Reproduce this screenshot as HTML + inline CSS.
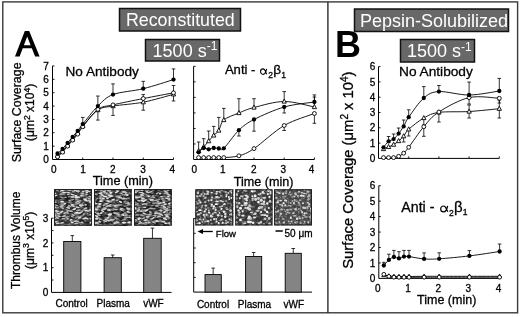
<!DOCTYPE html><html><head><meta charset="utf-8"><style>html,body{margin:0;padding:0;background:#fff;}svg{display:block;filter:grayscale(1);}text{font-family:"Liberation Sans", sans-serif;stroke:#000;stroke-width:0.3px;} text[fill="#fff"]{stroke:none;}</style></head><body>
<svg width="520" height="317" viewBox="0 0 520 317">
<defs>
<filter id="nA1" x="0" y="0" width="100%" height="100%" color-interpolation-filters="sRGB"><feTurbulence type="fractalNoise" baseFrequency="0.2 0.5" numOctaves="2" seed="3"/><feColorMatrix type="matrix" values="1 0 0 0 0  1 0 0 0 0  1 0 0 0 0  0 0 0 0 1"/><feComponentTransfer><feFuncR type="table" tableValues="0.08 0.08 0.09 0.12 0.17 0.26 0.4 0.55 0.65 0.7 0.75"/><feFuncG type="table" tableValues="0.08 0.08 0.09 0.12 0.17 0.26 0.4 0.55 0.65 0.7 0.75"/><feFuncB type="table" tableValues="0.08 0.08 0.09 0.12 0.17 0.26 0.4 0.55 0.65 0.7 0.75"/></feComponentTransfer></filter>
<filter id="nA2" x="0" y="0" width="100%" height="100%" color-interpolation-filters="sRGB"><feTurbulence type="fractalNoise" baseFrequency="0.25 0.45" numOctaves="2" seed="5"/><feColorMatrix type="matrix" values="1 0 0 0 0  1 0 0 0 0  1 0 0 0 0  0 0 0 0 1"/><feComponentTransfer><feFuncR type="table" tableValues="0.08 0.08 0.09 0.12 0.17 0.26 0.4 0.55 0.65 0.7 0.75"/><feFuncG type="table" tableValues="0.08 0.08 0.09 0.12 0.17 0.26 0.4 0.55 0.65 0.7 0.75"/><feFuncB type="table" tableValues="0.08 0.08 0.09 0.12 0.17 0.26 0.4 0.55 0.65 0.7 0.75"/></feComponentTransfer></filter>
<filter id="nA3" x="0" y="0" width="100%" height="100%" color-interpolation-filters="sRGB"><feTurbulence type="fractalNoise" baseFrequency="0.22 0.48" numOctaves="2" seed="8"/><feColorMatrix type="matrix" values="1 0 0 0 0  1 0 0 0 0  1 0 0 0 0  0 0 0 0 1"/><feComponentTransfer><feFuncR type="table" tableValues="0.08 0.08 0.09 0.12 0.17 0.26 0.4 0.55 0.65 0.7 0.75"/><feFuncG type="table" tableValues="0.08 0.08 0.09 0.12 0.17 0.26 0.4 0.55 0.65 0.7 0.75"/><feFuncB type="table" tableValues="0.08 0.08 0.09 0.12 0.17 0.26 0.4 0.55 0.65 0.7 0.75"/></feComponentTransfer></filter>
<filter id="nB1" x="0" y="0" width="100%" height="100%" color-interpolation-filters="sRGB"><feTurbulence type="fractalNoise" baseFrequency="0.4" numOctaves="2" seed="11"/><feColorMatrix type="matrix" values="1 0 0 0 0  1 0 0 0 0  1 0 0 0 0  0 0 0 0 1"/><feComponentTransfer><feFuncR type="table" tableValues="0.14 0.14 0.15 0.16 0.19 0.26 0.5 0.82 0.95 1 1"/><feFuncG type="table" tableValues="0.14 0.14 0.15 0.16 0.19 0.26 0.5 0.82 0.95 1 1"/><feFuncB type="table" tableValues="0.14 0.14 0.15 0.16 0.19 0.26 0.5 0.82 0.95 1 1"/></feComponentTransfer></filter>
<filter id="nB2" x="0" y="0" width="100%" height="100%" color-interpolation-filters="sRGB"><feTurbulence type="fractalNoise" baseFrequency="0.33" numOctaves="2" seed="13"/><feColorMatrix type="matrix" values="1 0 0 0 0  1 0 0 0 0  1 0 0 0 0  0 0 0 0 1"/><feComponentTransfer><feFuncR type="table" tableValues="0.14 0.14 0.15 0.16 0.19 0.26 0.5 0.82 0.95 1 1"/><feFuncG type="table" tableValues="0.14 0.14 0.15 0.16 0.19 0.26 0.5 0.82 0.95 1 1"/><feFuncB type="table" tableValues="0.14 0.14 0.15 0.16 0.19 0.26 0.5 0.82 0.95 1 1"/></feComponentTransfer></filter>
<filter id="nB3" x="0" y="0" width="100%" height="100%" color-interpolation-filters="sRGB"><feTurbulence type="fractalNoise" baseFrequency="0.5" numOctaves="2" seed="17"/><feColorMatrix type="matrix" values="1 0 0 0 0  1 0 0 0 0  1 0 0 0 0  0 0 0 0 1"/><feComponentTransfer><feFuncR type="table" tableValues="0.14 0.14 0.15 0.17 0.22 0.32 0.55 0.8 0.92 1 1"/><feFuncG type="table" tableValues="0.14 0.14 0.15 0.17 0.22 0.32 0.55 0.8 0.92 1 1"/><feFuncB type="table" tableValues="0.14 0.14 0.15 0.17 0.22 0.32 0.55 0.8 0.92 1 1"/></feComponentTransfer></filter>
</defs>
<rect x="2.8" y="1.9" width="514.8" height="310.9" fill="none" stroke="#3a3a3a" stroke-width="1.4"/>
<path d="M327.9,1.9 V313" stroke="#2a2a2a" stroke-width="1.4"/>
<rect x="119.50" y="8.50" width="121.00" height="22.50" fill="#686868" stroke="#111" stroke-width="1.5"/>
<text x="126.00" y="26.20" font-size="17.8" text-anchor="start" font-weight="normal" fill="#fff" >Reconstituted</text>
<rect x="145.50" y="39.50" width="74.00" height="21.50" fill="#686868" stroke="#111" stroke-width="1.5"/>
<text x="152.60" y="56.50" font-size="18" fill="#fff">1500 s<tspan font-size="12" dy="-6.5">-1</tspan></text>
<rect x="354.50" y="9.00" width="154.00" height="22.50" fill="#686868" stroke="#111" stroke-width="1.5"/>
<text x="360.00" y="26.50" font-size="18" text-anchor="start" font-weight="normal" fill="#fff" >Pepsin-Solubilized</text>
<rect x="400.50" y="39.50" width="74.00" height="22.50" fill="#686868" stroke="#111" stroke-width="1.5"/>
<text x="407.00" y="57.00" font-size="18" fill="#fff">1500 s<tspan font-size="12" dy="-6.5">-1</tspan></text>
<path fill-rule="evenodd" fill="#000" d="M24.8,30.9 L29.2,30.9 L39.6,56.5 L35.1,56.5 L31.85,48.3 L22.75,48.3 L19.6,56.5 L15,56.5 Z M27.2,36.4 L30.6,45.2 L23.9,45.2 Z"/>
<text x="335.00" y="57.00" font-size="36" text-anchor="start" font-weight="bold" fill="#000" style="stroke:none">B</text>
<path d="M52.50,65.98 V159.50 H173.50" fill="none" stroke="#000" stroke-width="1.00"/>
<path d="M82.75,159.50 v-2.00" stroke="#000" stroke-width="0.9"/>
<path d="M113.00,159.50 v-2.00" stroke="#000" stroke-width="0.9"/>
<path d="M143.25,159.50 v-2.00" stroke="#000" stroke-width="0.9"/>
<path d="M173.50,159.50 v-2.00" stroke="#000" stroke-width="0.9"/>
<path d="M52.50,146.14 h2.00" stroke="#000" stroke-width="0.9"/>
<path d="M52.50,132.78 h2.00" stroke="#000" stroke-width="0.9"/>
<path d="M52.50,119.42 h2.00" stroke="#000" stroke-width="0.9"/>
<path d="M52.50,106.06 h2.00" stroke="#000" stroke-width="0.9"/>
<path d="M52.50,92.70 h2.00" stroke="#000" stroke-width="0.9"/>
<path d="M52.50,79.34 h2.00" stroke="#000" stroke-width="0.9"/>
<path d="M52.50,65.98 h2.00" stroke="#000" stroke-width="0.9"/>
<text x="48.80" y="163.10" font-size="10" text-anchor="end" font-weight="normal" fill="#000" >0</text>
<text x="48.80" y="149.74" font-size="10" text-anchor="end" font-weight="normal" fill="#000" >1</text>
<text x="48.80" y="136.38" font-size="10" text-anchor="end" font-weight="normal" fill="#000" >2</text>
<text x="48.80" y="123.02" font-size="10" text-anchor="end" font-weight="normal" fill="#000" >3</text>
<text x="48.80" y="109.66" font-size="10" text-anchor="end" font-weight="normal" fill="#000" >4</text>
<text x="48.80" y="96.30" font-size="10" text-anchor="end" font-weight="normal" fill="#000" >5</text>
<text x="48.80" y="82.94" font-size="10" text-anchor="end" font-weight="normal" fill="#000" >6</text>
<text x="48.80" y="69.58" font-size="10" text-anchor="end" font-weight="normal" fill="#000" >7</text>
<text x="53.80" y="172.80" font-size="10" text-anchor="middle" font-weight="normal" fill="#000" >0</text>
<text x="83.00" y="172.80" font-size="10" text-anchor="middle" font-weight="normal" fill="#000" >1</text>
<text x="112.90" y="172.80" font-size="10" text-anchor="middle" font-weight="normal" fill="#000" >2</text>
<text x="143.10" y="172.80" font-size="10" text-anchor="middle" font-weight="normal" fill="#000" >3</text>
<text x="172.20" y="172.80" font-size="10" text-anchor="middle" font-weight="normal" fill="#000" >4</text>
<text x="122.80" y="185.20" font-size="12.7" text-anchor="middle" font-weight="normal" fill="#000" >Time (min)</text>
<text x="65.50" y="75.50" font-size="13.6" text-anchor="start" font-weight="normal" fill="#000" >No Antibody</text>
<path d="M82.75,124.10 V117.42 M80.95,117.42 H84.55" stroke="#000" stroke-width="0.80" fill="none"/>
<path d="M97.88,106.06 V96.04 M96.08,96.04 H99.67" stroke="#000" stroke-width="0.80" fill="none"/>
<path d="M113.00,94.57 V83.88 M111.20,83.88 H114.80" stroke="#000" stroke-width="0.80" fill="none"/>
<path d="M143.25,88.69 V81.34 M141.45,81.34 H145.05" stroke="#000" stroke-width="0.80" fill="none"/>
<path d="M173.50,79.61 V68.92 M171.70,68.92 H175.30" stroke="#000" stroke-width="0.80" fill="none"/>
<path d="M97.88,110.07 V120.09 M96.08,120.09 H99.67" stroke="#000" stroke-width="0.80" fill="none"/>
<path d="M113.00,106.06 V115.41 M111.20,115.41 H114.80" stroke="#000" stroke-width="0.80" fill="none"/>
<path d="M143.25,102.19 V110.20 M141.45,110.20 H145.05" stroke="#000" stroke-width="0.80" fill="none"/>
<path d="M173.50,94.30 V100.98 M171.70,100.98 H175.30" stroke="#000" stroke-width="0.80" fill="none"/>
<path d="M143.25,98.58 V94.57 M141.45,94.57 H145.05" stroke="#000" stroke-width="0.80" fill="none"/>
<path d="M173.50,92.83 V85.49 M171.70,85.49 H175.30" stroke="#000" stroke-width="0.80" fill="none"/>
<path d="M57.54,153.49 C58.38,152.71 60.90,150.59 62.58,148.81 C64.26,147.03 65.94,144.80 67.62,142.80 C69.31,140.80 70.99,138.79 72.67,136.79 C74.35,134.78 76.03,132.89 77.71,130.78 C79.39,128.66 79.39,128.22 82.75,124.10 C86.11,119.98 92.83,110.98 97.88,106.06 C102.92,101.14 105.44,97.47 113.00,94.57 C120.56,91.68 133.17,91.19 143.25,88.69 C153.33,86.20 168.46,81.12 173.50,79.61" fill="none" stroke="#000" stroke-width="0.90"/>
<path d="M57.54,156.83 C58.38,156.05 60.90,153.93 62.58,152.15 C64.26,150.37 65.94,148.14 67.62,146.14 C69.31,144.14 70.99,142.13 72.67,140.13 C74.35,138.12 76.03,136.34 77.71,134.12 C79.39,131.89 79.39,130.89 82.75,126.77 C86.11,122.65 92.83,113.05 97.88,109.40 C102.92,105.75 105.44,106.66 113.00,104.86 C120.56,103.05 133.17,100.58 143.25,98.58 C153.33,96.57 168.46,93.79 173.50,92.83" fill="none" stroke="#000" stroke-width="0.90"/>
<path d="M57.54,155.49 C58.38,154.82 60.90,153.15 62.58,151.48 C64.26,149.81 65.94,147.48 67.62,145.47 C69.31,143.47 70.99,141.58 72.67,139.46 C74.35,137.34 76.03,135.01 77.71,132.78 C79.39,130.55 79.39,129.89 82.75,126.10 C86.11,122.31 92.83,113.41 97.88,110.07 C102.92,106.73 105.44,107.37 113.00,106.06 C120.56,104.75 133.17,104.15 143.25,102.19 C153.33,100.23 168.46,95.62 173.50,94.30" fill="none" stroke="#000" stroke-width="0.90"/>
<path d="M57.54,153.03 L55.40,157.13 L59.69,157.13 Z" fill="#fff" stroke="#000" stroke-width="0.90"/>
<path d="M62.58,149.03 L60.44,153.12 L64.73,153.12 Z" fill="#fff" stroke="#000" stroke-width="0.90"/>
<path d="M67.62,143.02 L65.48,147.11 L69.77,147.11 Z" fill="#fff" stroke="#000" stroke-width="0.90"/>
<path d="M72.67,137.00 L70.52,141.10 L74.81,141.10 Z" fill="#fff" stroke="#000" stroke-width="0.90"/>
<path d="M77.71,130.32 L75.56,134.42 L79.85,134.42 Z" fill="#fff" stroke="#000" stroke-width="0.90"/>
<path d="M82.75,123.64 L80.61,127.74 L84.89,127.74 Z" fill="#fff" stroke="#000" stroke-width="0.90"/>
<path d="M97.88,107.61 L95.73,111.71 L100.02,111.71 Z" fill="#fff" stroke="#000" stroke-width="0.90"/>
<path d="M113.00,103.60 L110.86,107.70 L115.14,107.70 Z" fill="#fff" stroke="#000" stroke-width="0.90"/>
<path d="M143.25,99.73 L141.10,103.82 L145.40,103.82 Z" fill="#fff" stroke="#000" stroke-width="0.90"/>
<path d="M173.50,91.85 L171.35,95.94 L175.65,95.94 Z" fill="#fff" stroke="#000" stroke-width="0.90"/>
<circle cx="57.54" cy="156.83" r="1.95" fill="#fff" stroke="#000" stroke-width="0.90"/>
<circle cx="62.58" cy="152.15" r="1.95" fill="#fff" stroke="#000" stroke-width="0.90"/>
<circle cx="67.62" cy="146.14" r="1.95" fill="#fff" stroke="#000" stroke-width="0.90"/>
<circle cx="72.67" cy="140.13" r="1.95" fill="#fff" stroke="#000" stroke-width="0.90"/>
<circle cx="77.71" cy="134.12" r="1.95" fill="#fff" stroke="#000" stroke-width="0.90"/>
<circle cx="82.75" cy="126.77" r="1.95" fill="#fff" stroke="#000" stroke-width="0.90"/>
<circle cx="97.88" cy="109.40" r="1.95" fill="#fff" stroke="#000" stroke-width="0.90"/>
<circle cx="113.00" cy="104.86" r="1.95" fill="#fff" stroke="#000" stroke-width="0.90"/>
<circle cx="143.25" cy="98.58" r="1.95" fill="#fff" stroke="#000" stroke-width="0.90"/>
<circle cx="173.50" cy="92.83" r="1.95" fill="#fff" stroke="#000" stroke-width="0.90"/>
<circle cx="57.54" cy="153.49" r="2.15" fill="#000"/>
<circle cx="62.58" cy="148.81" r="2.15" fill="#000"/>
<circle cx="67.62" cy="142.80" r="2.15" fill="#000"/>
<circle cx="72.67" cy="136.79" r="2.15" fill="#000"/>
<circle cx="77.71" cy="130.78" r="2.15" fill="#000"/>
<circle cx="82.75" cy="124.10" r="2.15" fill="#000"/>
<circle cx="97.88" cy="106.06" r="2.15" fill="#000"/>
<circle cx="113.00" cy="94.57" r="2.15" fill="#000"/>
<circle cx="143.25" cy="88.69" r="2.15" fill="#000"/>
<circle cx="173.50" cy="79.61" r="2.15" fill="#000"/>
<path d="M193.60,66.30 V159.50 H314.40" fill="none" stroke="#000" stroke-width="1.00"/>
<path d="M223.80,159.50 v-2.00" stroke="#000" stroke-width="0.9"/>
<path d="M254.00,159.50 v-2.00" stroke="#000" stroke-width="0.9"/>
<path d="M284.20,159.50 v-2.00" stroke="#000" stroke-width="0.9"/>
<path d="M314.40,159.50 v-2.00" stroke="#000" stroke-width="0.9"/>
<path d="M193.60,143.97 h2.00" stroke="#000" stroke-width="0.9"/>
<path d="M193.60,128.44 h2.00" stroke="#000" stroke-width="0.9"/>
<path d="M193.60,112.91 h2.00" stroke="#000" stroke-width="0.9"/>
<path d="M193.60,97.38 h2.00" stroke="#000" stroke-width="0.9"/>
<path d="M193.60,81.85 h2.00" stroke="#000" stroke-width="0.9"/>
<path d="M193.60,66.32 h2.00" stroke="#000" stroke-width="0.9"/>
<text x="194.40" y="172.80" font-size="10" text-anchor="middle" font-weight="normal" fill="#000" >0</text>
<text x="222.70" y="172.80" font-size="10" text-anchor="middle" font-weight="normal" fill="#000" >1</text>
<text x="253.70" y="172.80" font-size="10" text-anchor="middle" font-weight="normal" fill="#000" >2</text>
<text x="283.30" y="172.80" font-size="10" text-anchor="middle" font-weight="normal" fill="#000" >3</text>
<text x="311.50" y="172.80" font-size="10" text-anchor="middle" font-weight="normal" fill="#000" >4</text>
<text x="263.70" y="185.90" font-size="12.6" text-anchor="middle" font-weight="normal" fill="#000" >Time (min)</text>
<text x="224.90" y="74.40" font-size="13.1" text-anchor="start" font-weight="normal" fill="#000" >Anti -</text>
<path transform="translate(260.55,74.35) scale(6.200,5.500)" d="M0.98,-1 C0.88,-0.45 0.72,0 0.42,0 C0.15,0 0.0,-0.25 0.0,-0.5 C0.0,-0.78 0.17,-1 0.42,-1 C0.72,-1 0.82,-0.45 1.0,0" fill="none" stroke="#000" stroke-width="1.10" vector-effect="non-scaling-stroke"/>
<text x="268.30" y="77.70" font-size="8.5" text-anchor="start" font-weight="normal" fill="#000" >2</text>
<text x="273.20" y="74.40" font-size="13.6" text-anchor="start" font-weight="normal" fill="#000" >β</text>
<text x="281.20" y="77.90" font-size="8.5" text-anchor="start" font-weight="normal" fill="#000" >1</text>
<path d="M198.63,151.00 V142.00 M196.83,142.00 H200.43" stroke="#000" stroke-width="0.80" fill="none"/>
<path d="M203.67,146.90 V138.70 M201.87,138.70 H205.47" stroke="#000" stroke-width="0.80" fill="none"/>
<path d="M208.70,141.10 V131.00 M206.90,131.00 H210.50" stroke="#000" stroke-width="0.80" fill="none"/>
<path d="M213.73,135.40 V126.40 M211.93,126.40 H215.53" stroke="#000" stroke-width="0.80" fill="none"/>
<path d="M218.77,130.50 V117.40 M216.97,117.40 H220.57" stroke="#000" stroke-width="0.80" fill="none"/>
<path d="M223.80,120.00 V108.40 M222.00,108.40 H225.60" stroke="#000" stroke-width="0.80" fill="none"/>
<path d="M238.90,113.00 V98.70 M237.10,98.70 H240.70" stroke="#000" stroke-width="0.80" fill="none"/>
<path d="M254.00,107.50 V98.70 M252.20,98.70 H255.80" stroke="#000" stroke-width="0.80" fill="none"/>
<path d="M284.20,101.50 V91.60 M282.40,91.60 H286.00" stroke="#000" stroke-width="0.80" fill="none"/>
<path d="M314.40,107.00 V94.90 M312.60,94.90 H316.20" stroke="#000" stroke-width="0.80" fill="none"/>
<path d="M238.90,130.20 V136.00 M237.10,136.00 H240.70" stroke="#000" stroke-width="0.80" fill="none"/>
<path d="M254.00,119.50 V131.20 M252.20,131.20 H255.80" stroke="#000" stroke-width="0.80" fill="none"/>
<path d="M284.20,107.00 V113.00 M282.40,113.00 H286.00" stroke="#000" stroke-width="0.80" fill="none"/>
<path d="M314.40,102.00 V97.00 M312.60,97.00 H316.20" stroke="#000" stroke-width="0.80" fill="none"/>
<path d="M284.20,125.50 V130.50 M282.40,130.50 H286.00" stroke="#000" stroke-width="0.80" fill="none"/>
<path d="M314.40,113.50 V123.30 M312.60,123.30 H316.20" stroke="#000" stroke-width="0.80" fill="none"/>
<path d="M198.63,152.30 C199.47,151.58 201.99,148.50 203.67,148.00 C205.34,147.50 207.02,149.30 208.70,149.30 C210.38,149.30 212.06,148.13 213.73,148.00 C215.41,147.87 217.09,148.45 218.77,148.50 C220.44,148.55 220.44,151.35 223.80,148.30 C227.16,145.25 233.87,135.00 238.90,130.20 C243.93,125.40 246.45,123.37 254.00,119.50 C261.55,115.63 274.13,109.92 284.20,107.00 C294.27,104.08 309.37,102.83 314.40,102.00" fill="none" stroke="#000" stroke-width="0.90"/>
<path d="M198.63,157.60 C199.47,157.60 201.99,157.60 203.67,157.60 C205.34,157.60 207.02,157.60 208.70,157.60 C210.38,157.60 212.06,157.60 213.73,157.60 C215.41,157.60 217.09,157.60 218.77,157.60 C220.44,157.60 220.44,157.90 223.80,157.60 C227.16,157.30 233.87,157.30 238.90,155.80 C243.93,154.30 246.45,153.65 254.00,148.60 C261.55,143.55 274.13,131.35 284.20,125.50 C294.27,119.65 309.37,115.50 314.40,113.50" fill="none" stroke="#000" stroke-width="0.90"/>
<path d="M198.63,151.00 C199.47,150.32 201.99,148.55 203.67,146.90 C205.34,145.25 207.02,143.02 208.70,141.10 C210.38,139.18 212.06,137.17 213.73,135.40 C215.41,133.63 217.09,133.07 218.77,130.50 C220.44,127.93 220.44,122.92 223.80,120.00 C227.16,117.08 233.87,115.08 238.90,113.00 C243.93,110.92 246.45,109.42 254.00,107.50 C261.55,105.58 274.13,101.58 284.20,101.50 C294.27,101.42 309.37,106.08 314.40,107.00" fill="none" stroke="#000" stroke-width="0.90"/>
<path d="M198.63,148.54 L196.49,152.64 L200.78,152.64 Z" fill="#fff" stroke="#000" stroke-width="0.90"/>
<path d="M203.67,144.44 L201.52,148.54 L205.81,148.54 Z" fill="#fff" stroke="#000" stroke-width="0.90"/>
<path d="M208.70,138.64 L206.55,142.74 L210.84,142.74 Z" fill="#fff" stroke="#000" stroke-width="0.90"/>
<path d="M213.73,132.94 L211.59,137.04 L215.88,137.04 Z" fill="#fff" stroke="#000" stroke-width="0.90"/>
<path d="M218.77,128.04 L216.62,132.14 L220.91,132.14 Z" fill="#fff" stroke="#000" stroke-width="0.90"/>
<path d="M223.80,117.54 L221.65,121.64 L225.94,121.64 Z" fill="#fff" stroke="#000" stroke-width="0.90"/>
<path d="M238.90,110.54 L236.75,114.64 L241.04,114.64 Z" fill="#fff" stroke="#000" stroke-width="0.90"/>
<path d="M254.00,105.04 L251.85,109.14 L256.14,109.14 Z" fill="#fff" stroke="#000" stroke-width="0.90"/>
<path d="M284.20,99.04 L282.06,103.14 L286.34,103.14 Z" fill="#fff" stroke="#000" stroke-width="0.90"/>
<path d="M314.40,104.54 L312.25,108.64 L316.54,108.64 Z" fill="#fff" stroke="#000" stroke-width="0.90"/>
<circle cx="198.63" cy="157.60" r="1.95" fill="#fff" stroke="#000" stroke-width="0.90"/>
<circle cx="203.67" cy="157.60" r="1.95" fill="#fff" stroke="#000" stroke-width="0.90"/>
<circle cx="208.70" cy="157.60" r="1.95" fill="#fff" stroke="#000" stroke-width="0.90"/>
<circle cx="213.73" cy="157.60" r="1.95" fill="#fff" stroke="#000" stroke-width="0.90"/>
<circle cx="218.77" cy="157.60" r="1.95" fill="#fff" stroke="#000" stroke-width="0.90"/>
<circle cx="223.80" cy="157.60" r="1.95" fill="#fff" stroke="#000" stroke-width="0.90"/>
<circle cx="238.90" cy="155.80" r="1.95" fill="#fff" stroke="#000" stroke-width="0.90"/>
<circle cx="254.00" cy="148.60" r="1.95" fill="#fff" stroke="#000" stroke-width="0.90"/>
<circle cx="284.20" cy="125.50" r="1.95" fill="#fff" stroke="#000" stroke-width="0.90"/>
<circle cx="314.40" cy="113.50" r="1.95" fill="#fff" stroke="#000" stroke-width="0.90"/>
<circle cx="198.63" cy="152.30" r="2.15" fill="#000"/>
<circle cx="203.67" cy="148.00" r="2.15" fill="#000"/>
<circle cx="208.70" cy="149.30" r="2.15" fill="#000"/>
<circle cx="213.73" cy="148.00" r="2.15" fill="#000"/>
<circle cx="218.77" cy="148.50" r="2.15" fill="#000"/>
<circle cx="223.80" cy="148.30" r="2.15" fill="#000"/>
<circle cx="238.90" cy="130.20" r="2.15" fill="#000"/>
<circle cx="254.00" cy="119.50" r="2.15" fill="#000"/>
<circle cx="284.20" cy="107.00" r="2.15" fill="#000"/>
<circle cx="314.40" cy="102.00" r="2.15" fill="#000"/>
<path d="M378.50,66.60 V158.40 H499.30" fill="none" stroke="#000" stroke-width="1.00"/>
<path d="M408.70,158.40 v-2.00" stroke="#000" stroke-width="0.9"/>
<path d="M438.90,158.40 v-2.00" stroke="#000" stroke-width="0.9"/>
<path d="M469.10,158.40 v-2.00" stroke="#000" stroke-width="0.9"/>
<path d="M499.30,158.40 v-2.00" stroke="#000" stroke-width="0.9"/>
<path d="M378.50,143.10 h2.00" stroke="#000" stroke-width="0.9"/>
<path d="M378.50,127.80 h2.00" stroke="#000" stroke-width="0.9"/>
<path d="M378.50,112.50 h2.00" stroke="#000" stroke-width="0.9"/>
<path d="M378.50,97.20 h2.00" stroke="#000" stroke-width="0.9"/>
<path d="M378.50,81.90 h2.00" stroke="#000" stroke-width="0.9"/>
<path d="M378.50,66.60 h2.00" stroke="#000" stroke-width="0.9"/>
<text x="375.30" y="162.00" font-size="10" text-anchor="end" font-weight="normal" fill="#000" >0</text>
<text x="375.30" y="146.70" font-size="10" text-anchor="end" font-weight="normal" fill="#000" >1</text>
<text x="375.30" y="131.40" font-size="10" text-anchor="end" font-weight="normal" fill="#000" >2</text>
<text x="375.30" y="116.10" font-size="10" text-anchor="end" font-weight="normal" fill="#000" >3</text>
<text x="375.30" y="100.80" font-size="10" text-anchor="end" font-weight="normal" fill="#000" >4</text>
<text x="375.30" y="85.50" font-size="10" text-anchor="end" font-weight="normal" fill="#000" >5</text>
<text x="375.30" y="70.20" font-size="10" text-anchor="end" font-weight="normal" fill="#000" >6</text>
<text x="399.00" y="75.50" font-size="13.7" text-anchor="start" font-weight="normal" fill="#000" >No Antibody</text>
<path d="M403.67,126.40 V120.00 M401.87,120.00 H405.47" stroke="#000" stroke-width="0.80" fill="none"/>
<path d="M408.70,117.20 V109.80 M406.90,109.80 H410.50" stroke="#000" stroke-width="0.80" fill="none"/>
<path d="M423.80,98.00 V86.60 M422.00,86.60 H425.60" stroke="#000" stroke-width="0.80" fill="none"/>
<path d="M438.90,91.60 V85.50 M437.10,85.50 H440.70" stroke="#000" stroke-width="0.80" fill="none"/>
<path d="M469.10,95.00 V82.10 M467.30,82.10 H470.90" stroke="#000" stroke-width="0.80" fill="none"/>
<path d="M499.30,91.00 V78.40 M497.50,78.40 H501.10" stroke="#000" stroke-width="0.80" fill="none"/>
<path d="M388.57,141.40 V136.50 M386.77,136.50 H390.37" stroke="#000" stroke-width="0.80" fill="none"/>
<path d="M393.60,139.10 V134.00 M391.80,134.00 H395.40" stroke="#000" stroke-width="0.80" fill="none"/>
<path d="M398.63,133.60 V128.00 M396.83,128.00 H400.43" stroke="#000" stroke-width="0.80" fill="none"/>
<path d="M423.80,126.70 V136.30 M422.00,136.30 H425.60" stroke="#000" stroke-width="0.80" fill="none"/>
<path d="M438.90,112.00 V122.00 M437.10,122.00 H440.70" stroke="#000" stroke-width="0.80" fill="none"/>
<path d="M469.10,97.60 V104.00 M467.30,104.00 H470.90" stroke="#000" stroke-width="0.80" fill="none"/>
<path d="M499.30,98.30 V103.00 M497.50,103.00 H501.10" stroke="#000" stroke-width="0.80" fill="none"/>
<path d="M469.10,111.50 V118.00 M467.30,118.00 H470.90" stroke="#000" stroke-width="0.80" fill="none"/>
<path d="M499.30,108.70 V118.00 M497.50,118.00 H501.10" stroke="#000" stroke-width="0.80" fill="none"/>
<path d="M469.10,111.50 V105.00 M467.30,105.00 H470.90" stroke="#000" stroke-width="0.80" fill="none"/>
<path d="M499.30,108.70 V100.00 M497.50,100.00 H501.10" stroke="#000" stroke-width="0.80" fill="none"/>
<path d="M408.70,129.30 V136.00 M406.90,136.00 H410.50" stroke="#000" stroke-width="0.80" fill="none"/>
<path d="M423.80,118.00 V125.00 M422.00,125.00 H425.60" stroke="#000" stroke-width="0.80" fill="none"/>
<path d="M403.67,136.20 V142.00 M401.87,142.00 H405.47" stroke="#000" stroke-width="0.80" fill="none"/>
<path d="M383.53,147.30 C384.37,146.32 386.89,142.77 388.57,141.40 C390.24,140.03 391.92,140.40 393.60,139.10 C395.28,137.80 396.96,135.72 398.63,133.60 C400.31,131.48 401.99,129.13 403.67,126.40 C405.34,123.67 405.34,121.93 408.70,117.20 C412.06,112.47 418.77,102.27 423.80,98.00 C428.83,93.73 431.35,92.10 438.90,91.60 C446.45,91.10 459.03,95.10 469.10,95.00 C479.17,94.90 494.27,91.67 499.30,91.00" fill="none" stroke="#000" stroke-width="0.90"/>
<path d="M383.53,157.60 C384.37,157.60 386.89,157.60 388.57,157.60 C390.24,157.60 391.92,157.82 393.60,157.60 C395.28,157.38 396.96,157.03 398.63,156.30 C400.31,155.57 401.99,154.70 403.67,153.20 C405.34,151.70 405.34,151.72 408.70,147.30 C412.06,142.88 418.77,132.58 423.80,126.70 C428.83,120.82 431.35,116.85 438.90,112.00 C446.45,107.15 459.03,99.88 469.10,97.60 C479.17,95.32 494.27,98.18 499.30,98.30" fill="none" stroke="#000" stroke-width="0.90"/>
<path d="M383.53,149.00 C384.37,148.65 386.89,147.63 388.57,146.90 C390.24,146.17 391.92,145.58 393.60,144.60 C395.28,143.62 396.96,142.40 398.63,141.00 C400.31,139.60 401.99,138.15 403.67,136.20 C405.34,134.25 405.34,132.33 408.70,129.30 C412.06,126.27 418.77,120.82 423.80,118.00 C428.83,115.18 431.35,113.48 438.90,112.40 C446.45,111.32 459.03,112.12 469.10,111.50 C479.17,110.88 494.27,109.17 499.30,108.70" fill="none" stroke="#000" stroke-width="0.90"/>
<path d="M383.53,146.54 L381.39,150.64 L385.68,150.64 Z" fill="#fff" stroke="#000" stroke-width="0.90"/>
<path d="M388.57,144.44 L386.42,148.54 L390.71,148.54 Z" fill="#fff" stroke="#000" stroke-width="0.90"/>
<path d="M393.60,142.14 L391.46,146.24 L395.75,146.24 Z" fill="#fff" stroke="#000" stroke-width="0.90"/>
<path d="M398.63,138.54 L396.49,142.64 L400.78,142.64 Z" fill="#fff" stroke="#000" stroke-width="0.90"/>
<path d="M403.67,133.74 L401.52,137.84 L405.81,137.84 Z" fill="#fff" stroke="#000" stroke-width="0.90"/>
<path d="M408.70,126.84 L406.56,130.94 L410.84,130.94 Z" fill="#fff" stroke="#000" stroke-width="0.90"/>
<path d="M423.80,115.54 L421.66,119.64 L425.94,119.64 Z" fill="#fff" stroke="#000" stroke-width="0.90"/>
<path d="M438.90,109.94 L436.75,114.04 L441.04,114.04 Z" fill="#fff" stroke="#000" stroke-width="0.90"/>
<path d="M469.10,109.04 L466.96,113.14 L471.25,113.14 Z" fill="#fff" stroke="#000" stroke-width="0.90"/>
<path d="M499.30,106.24 L497.16,110.34 L501.44,110.34 Z" fill="#fff" stroke="#000" stroke-width="0.90"/>
<circle cx="383.53" cy="157.60" r="1.95" fill="#fff" stroke="#000" stroke-width="0.90"/>
<circle cx="388.57" cy="157.60" r="1.95" fill="#fff" stroke="#000" stroke-width="0.90"/>
<circle cx="393.60" cy="157.60" r="1.95" fill="#fff" stroke="#000" stroke-width="0.90"/>
<circle cx="398.63" cy="156.30" r="1.95" fill="#fff" stroke="#000" stroke-width="0.90"/>
<circle cx="403.67" cy="153.20" r="1.95" fill="#fff" stroke="#000" stroke-width="0.90"/>
<circle cx="408.70" cy="147.30" r="1.95" fill="#fff" stroke="#000" stroke-width="0.90"/>
<circle cx="423.80" cy="126.70" r="1.95" fill="#fff" stroke="#000" stroke-width="0.90"/>
<circle cx="438.90" cy="112.00" r="1.95" fill="#fff" stroke="#000" stroke-width="0.90"/>
<circle cx="469.10" cy="97.60" r="1.95" fill="#fff" stroke="#000" stroke-width="0.90"/>
<circle cx="499.30" cy="98.30" r="1.95" fill="#fff" stroke="#000" stroke-width="0.90"/>
<circle cx="383.53" cy="147.30" r="2.15" fill="#000"/>
<circle cx="388.57" cy="141.40" r="2.15" fill="#000"/>
<circle cx="393.60" cy="139.10" r="2.15" fill="#000"/>
<circle cx="398.63" cy="133.60" r="2.15" fill="#000"/>
<circle cx="403.67" cy="126.40" r="2.15" fill="#000"/>
<circle cx="408.70" cy="117.20" r="2.15" fill="#000"/>
<circle cx="423.80" cy="98.00" r="2.15" fill="#000"/>
<circle cx="438.90" cy="91.60" r="2.15" fill="#000"/>
<circle cx="469.10" cy="95.00" r="2.15" fill="#000"/>
<circle cx="499.30" cy="91.00" r="2.15" fill="#000"/>
<path d="M378.80,185.70 V278.40 H499.60" fill="none" stroke="#000" stroke-width="1.00"/>
<path d="M409.00,278.40 v-2.00" stroke="#000" stroke-width="0.9"/>
<path d="M439.20,278.40 v-2.00" stroke="#000" stroke-width="0.9"/>
<path d="M469.40,278.40 v-2.00" stroke="#000" stroke-width="0.9"/>
<path d="M499.60,278.40 v-2.00" stroke="#000" stroke-width="0.9"/>
<path d="M378.80,262.95 h2.00" stroke="#000" stroke-width="0.9"/>
<path d="M378.80,247.50 h2.00" stroke="#000" stroke-width="0.9"/>
<path d="M378.80,232.05 h2.00" stroke="#000" stroke-width="0.9"/>
<path d="M378.80,216.60 h2.00" stroke="#000" stroke-width="0.9"/>
<path d="M378.80,201.15 h2.00" stroke="#000" stroke-width="0.9"/>
<path d="M378.80,185.70 h2.00" stroke="#000" stroke-width="0.9"/>
<text x="375.30" y="282.00" font-size="10" text-anchor="end" font-weight="normal" fill="#000" >0</text>
<text x="375.30" y="266.55" font-size="10" text-anchor="end" font-weight="normal" fill="#000" >1</text>
<text x="375.30" y="251.10" font-size="10" text-anchor="end" font-weight="normal" fill="#000" >2</text>
<text x="375.30" y="235.65" font-size="10" text-anchor="end" font-weight="normal" fill="#000" >3</text>
<text x="375.30" y="220.20" font-size="10" text-anchor="end" font-weight="normal" fill="#000" >4</text>
<text x="375.30" y="204.75" font-size="10" text-anchor="end" font-weight="normal" fill="#000" >5</text>
<text x="375.30" y="189.30" font-size="10" text-anchor="end" font-weight="normal" fill="#000" >6</text>
<text x="377.80" y="291.80" font-size="10" text-anchor="middle" font-weight="normal" fill="#000" >0</text>
<text x="408.00" y="291.80" font-size="10" text-anchor="middle" font-weight="normal" fill="#000" >1</text>
<text x="438.20" y="291.80" font-size="10" text-anchor="middle" font-weight="normal" fill="#000" >2</text>
<text x="468.40" y="291.80" font-size="10" text-anchor="middle" font-weight="normal" fill="#000" >3</text>
<text x="498.60" y="291.80" font-size="10" text-anchor="middle" font-weight="normal" fill="#000" >4</text>
<text x="446.70" y="303.60" font-size="12.5" text-anchor="middle" font-weight="normal" fill="#000" >Time (min)</text>
<text x="401.30" y="212.20" font-size="14.2" text-anchor="start" font-weight="normal" fill="#000" >Anti -</text>
<path transform="translate(440.70,211.80) scale(7.100,5.800)" d="M0.98,-1 C0.88,-0.45 0.72,0 0.42,0 C0.15,0 0.0,-0.25 0.0,-0.5 C0.0,-0.78 0.17,-1 0.42,-1 C0.72,-1 0.82,-0.45 1.0,0" fill="none" stroke="#000" stroke-width="1.20" vector-effect="non-scaling-stroke"/>
<text x="448.90" y="215.60" font-size="8.5" text-anchor="start" font-weight="normal" fill="#000" >2</text>
<text x="453.90" y="212.20" font-size="15" text-anchor="start" font-weight="normal" fill="#000" >β</text>
<text x="462.80" y="215.30" font-size="8.5" text-anchor="start" font-weight="normal" fill="#000" >1</text>
<path d="M383.83,265.50 V262.30 M382.03,262.30 H385.63" stroke="#000" stroke-width="0.80" fill="none"/>
<path d="M388.87,259.90 V254.20 M387.07,254.20 H390.67" stroke="#000" stroke-width="0.80" fill="none"/>
<path d="M393.90,257.00 V250.40 M392.10,250.40 H395.70" stroke="#000" stroke-width="0.80" fill="none"/>
<path d="M398.93,258.40 V251.70 M397.13,251.70 H400.73" stroke="#000" stroke-width="0.80" fill="none"/>
<path d="M403.97,256.60 V250.40 M402.17,250.40 H405.77" stroke="#000" stroke-width="0.80" fill="none"/>
<path d="M409.00,256.60 V250.40 M407.20,250.40 H410.80" stroke="#000" stroke-width="0.80" fill="none"/>
<path d="M424.10,258.90 V252.90 M422.30,252.90 H425.90" stroke="#000" stroke-width="0.80" fill="none"/>
<path d="M439.20,258.80 V252.80 M437.40,252.80 H441.00" stroke="#000" stroke-width="0.80" fill="none"/>
<path d="M469.40,255.90 V250.60 M467.60,250.60 H471.20" stroke="#000" stroke-width="0.80" fill="none"/>
<path d="M499.60,251.50 V244.00 M497.80,244.00 H501.40" stroke="#000" stroke-width="0.80" fill="none"/>
<path d="M383.83,265.50 C384.67,264.57 387.19,261.32 388.87,259.90 C390.54,258.48 392.22,257.25 393.90,257.00 C395.58,256.75 397.26,258.47 398.93,258.40 C400.61,258.33 402.29,256.90 403.97,256.60 C405.64,256.30 405.64,256.22 409.00,256.60 C412.36,256.98 419.07,258.53 424.10,258.90 C429.13,259.27 431.65,259.30 439.20,258.80 C446.75,258.30 459.33,257.12 469.40,255.90 C479.47,254.68 494.57,252.23 499.60,251.50" fill="none" stroke="#000" stroke-width="0.90"/>
<path d="M383.83,274.30 C384.67,274.65 387.19,275.92 388.87,276.40 C390.54,276.88 392.22,277.05 393.90,277.20 C395.58,277.35 397.26,277.28 398.93,277.30 C400.61,277.32 402.29,277.30 403.97,277.30 C405.64,277.30 405.64,277.32 409.00,277.30 C412.36,277.28 419.07,277.22 424.10,277.20 C429.13,277.18 431.65,277.20 439.20,277.20 C446.75,277.20 459.33,277.20 469.40,277.20 C479.47,277.20 494.57,277.20 499.60,277.20" fill="none" stroke="#000" stroke-width="0.90"/>
<path d="M383.83,275.20 C384.67,275.33 387.19,275.80 388.87,276.00 C390.54,276.20 392.22,276.32 393.90,276.40 C395.58,276.48 397.26,276.48 398.93,276.50 C400.61,276.52 402.29,276.50 403.97,276.50 C405.64,276.50 405.64,276.53 409.00,276.50 C412.36,276.47 419.07,276.33 424.10,276.30 C429.13,276.27 431.65,276.30 439.20,276.30 C446.75,276.30 459.33,276.30 469.40,276.30 C479.47,276.30 494.57,276.30 499.60,276.30" fill="none" stroke="#000" stroke-width="0.90"/>
<path d="M383.83,272.93 L381.85,276.71 L385.81,276.71 Z" fill="#fff" stroke="#000" stroke-width="0.90"/>
<path d="M388.87,273.73 L386.89,277.51 L390.85,277.51 Z" fill="#fff" stroke="#000" stroke-width="0.90"/>
<path d="M393.90,274.13 L391.92,277.91 L395.88,277.91 Z" fill="#fff" stroke="#000" stroke-width="0.90"/>
<path d="M398.93,274.23 L396.95,278.01 L400.91,278.01 Z" fill="#fff" stroke="#000" stroke-width="0.90"/>
<path d="M403.97,274.23 L401.99,278.01 L405.95,278.01 Z" fill="#fff" stroke="#000" stroke-width="0.90"/>
<path d="M409.00,274.23 L407.02,278.01 L410.98,278.01 Z" fill="#fff" stroke="#000" stroke-width="0.90"/>
<path d="M424.10,274.03 L422.12,277.81 L426.08,277.81 Z" fill="#fff" stroke="#000" stroke-width="0.90"/>
<path d="M439.20,274.03 L437.22,277.81 L441.18,277.81 Z" fill="#fff" stroke="#000" stroke-width="0.90"/>
<path d="M469.40,274.03 L467.42,277.81 L471.38,277.81 Z" fill="#fff" stroke="#000" stroke-width="0.90"/>
<path d="M499.60,274.03 L497.62,277.81 L501.58,277.81 Z" fill="#fff" stroke="#000" stroke-width="0.90"/>
<circle cx="383.83" cy="274.30" r="1.90" fill="#fff" stroke="#000" stroke-width="0.90"/>
<circle cx="388.87" cy="276.40" r="1.90" fill="#fff" stroke="#000" stroke-width="0.90"/>
<circle cx="393.90" cy="277.20" r="1.90" fill="#fff" stroke="#000" stroke-width="0.90"/>
<circle cx="398.93" cy="277.30" r="1.90" fill="#fff" stroke="#000" stroke-width="0.90"/>
<circle cx="403.97" cy="277.30" r="1.90" fill="#fff" stroke="#000" stroke-width="0.90"/>
<circle cx="409.00" cy="277.30" r="1.90" fill="#fff" stroke="#000" stroke-width="0.90"/>
<circle cx="424.10" cy="277.20" r="1.90" fill="#fff" stroke="#000" stroke-width="0.90"/>
<circle cx="439.20" cy="277.20" r="1.90" fill="#fff" stroke="#000" stroke-width="0.90"/>
<circle cx="469.40" cy="277.20" r="1.90" fill="#fff" stroke="#000" stroke-width="0.90"/>
<circle cx="499.60" cy="277.20" r="1.90" fill="#fff" stroke="#000" stroke-width="0.90"/>
<circle cx="383.83" cy="265.50" r="2.15" fill="#000"/>
<circle cx="388.87" cy="259.90" r="2.15" fill="#000"/>
<circle cx="393.90" cy="257.00" r="2.15" fill="#000"/>
<circle cx="398.93" cy="258.40" r="2.15" fill="#000"/>
<circle cx="403.97" cy="256.60" r="2.15" fill="#000"/>
<circle cx="409.00" cy="256.60" r="2.15" fill="#000"/>
<circle cx="424.10" cy="258.90" r="2.15" fill="#000"/>
<circle cx="439.20" cy="258.80" r="2.15" fill="#000"/>
<circle cx="469.40" cy="255.90" r="2.15" fill="#000"/>
<circle cx="499.60" cy="251.50" r="2.15" fill="#000"/>
<text transform="translate(20.60,112.40) rotate(-90)" font-size="12.4" text-anchor="middle">Surface Coverage</text>
<text transform="translate(34.20,112.40) rotate(-90)" font-size="12" text-anchor="middle">(μm<tspan font-size="8.6" dy="-4.3">2</tspan><tspan dy="4.3"> x10</tspan><tspan font-size="8.6" dy="-4.3">4</tspan><tspan dy="4.3">)</tspan></text>
<text transform="translate(20.00,240.30) rotate(-90)" font-size="12" text-anchor="middle">Thrombus Volume</text>
<text transform="translate(33.70,240.30) rotate(-90)" font-size="12" text-anchor="middle">(μm<tspan font-size="8.6" dy="-4.3">3</tspan><tspan dy="4.3"> x10</tspan><tspan font-size="8.6" dy="-4.3">5</tspan><tspan dy="4.3">)</tspan></text>
<text transform="translate(352.50,170.10) rotate(-90)" font-size="14.8" text-anchor="middle">Surface Coverage (μm<tspan font-size="10" dy="-5">2</tspan><tspan dy="5"> x 10</tspan><tspan font-size="10" dy="-5">4</tspan><tspan dy="5">)</tspan></text>
<filter id="bl" x="-10%" y="-10%" width="120%" height="120%"><feGaussianBlur stdDeviation="0.45"/></filter>
<clipPath id="cA1"><rect x="54" y="189" width="38" height="36.5"/></clipPath><clipPath id="cA2"><rect x="94" y="189" width="37.5" height="36.5"/></clipPath><clipPath id="cA3"><rect x="134" y="189" width="37.5" height="36.5"/></clipPath>
<rect x="54.0" y="189" width="38.0" height="36.5" fill="#777" filter="url(#nA1)"/>
<g clip-path="url(#cA1)" opacity="0.9"><g filter="url(#bl)"><ellipse transform="rotate(20 55.4 189.2)" cx="55.4" cy="189.2" rx="1.9" ry="0.7" fill="rgb(192,192,192)"/><ellipse transform="rotate(16 57.2 190.1)" cx="57.2" cy="190.1" rx="1.6" ry="0.8" fill="rgb(192,192,192)"/><ellipse transform="rotate(-23 62.0 190.6)" cx="62.0" cy="190.6" rx="2.3" ry="0.8" fill="rgb(235,235,235)"/><ellipse transform="rotate(3 67.6 189.3)" cx="67.6" cy="189.3" rx="1.8" ry="0.8" fill="rgb(224,224,224)"/><ellipse transform="rotate(3 69.9 190.5)" cx="69.9" cy="190.5" rx="1.5" ry="0.6" fill="rgb(193,193,193)"/><ellipse transform="rotate(-7 75.7 190.4)" cx="75.7" cy="190.4" rx="2.2" ry="0.7" fill="rgb(243,243,243)"/><ellipse transform="rotate(19 78.6 191.0)" cx="78.6" cy="191.0" rx="1.4" ry="0.7" fill="rgb(248,248,248)"/><ellipse transform="rotate(-17 83.2 191.5)" cx="83.2" cy="191.5" rx="1.4" ry="0.7" fill="rgb(228,228,228)"/><ellipse transform="rotate(-8 86.4 190.7)" cx="86.4" cy="190.7" rx="2.1" ry="0.8" fill="rgb(225,225,225)"/><ellipse transform="rotate(-1 92.5 191.1)" cx="92.5" cy="191.1" rx="1.4" ry="0.6" fill="rgb(219,219,219)"/><ellipse transform="rotate(11 54.2 193.3)" cx="54.2" cy="193.3" rx="2.4" ry="0.9" fill="rgb(221,221,221)"/><ellipse transform="rotate(13 63.6 192.5)" cx="63.6" cy="192.5" rx="2.0" ry="0.7" fill="rgb(212,212,212)"/><ellipse transform="rotate(-5 64.9 192.6)" cx="64.9" cy="192.6" rx="2.3" ry="0.6" fill="rgb(242,242,242)"/><ellipse transform="rotate(9 68.6 192.7)" cx="68.6" cy="192.7" rx="1.9" ry="0.8" fill="rgb(230,230,230)"/><ellipse transform="rotate(-1 73.2 191.8)" cx="73.2" cy="191.8" rx="1.5" ry="0.8" fill="rgb(186,186,186)"/><ellipse transform="rotate(23 77.5 191.6)" cx="77.5" cy="191.6" rx="1.8" ry="0.7" fill="rgb(225,225,225)"/><ellipse transform="rotate(-5 82.8 193.2)" cx="82.8" cy="193.2" rx="2.0" ry="0.6" fill="rgb(235,235,235)"/><ellipse transform="rotate(-17 86.8 192.6)" cx="86.8" cy="192.6" rx="1.5" ry="0.9" fill="rgb(241,241,241)"/><ellipse transform="rotate(6 89.2 191.6)" cx="89.2" cy="191.6" rx="1.5" ry="0.6" fill="rgb(231,231,231)"/><ellipse transform="rotate(-19 55.3 195.8)" cx="55.3" cy="195.8" rx="2.4" ry="0.8" fill="rgb(245,245,245)"/><ellipse transform="rotate(-1 68.3 194.4)" cx="68.3" cy="194.4" rx="1.4" ry="0.7" fill="rgb(218,218,218)"/><ellipse transform="rotate(21 72.7 194.7)" cx="72.7" cy="194.7" rx="2.3" ry="0.7" fill="rgb(254,254,254)"/><ellipse transform="rotate(-7 76.0 195.9)" cx="76.0" cy="195.9" rx="1.4" ry="0.9" fill="rgb(251,251,251)"/><ellipse transform="rotate(6 82.1 195.6)" cx="82.1" cy="195.6" rx="2.2" ry="0.7" fill="rgb(213,213,213)"/><ellipse transform="rotate(-15 86.3 194.7)" cx="86.3" cy="194.7" rx="1.6" ry="0.7" fill="rgb(214,214,214)"/><ellipse transform="rotate(10 90.4 196.8)" cx="90.4" cy="196.8" rx="2.2" ry="0.7" fill="rgb(209,209,209)"/><ellipse transform="rotate(-1 65.6 197.4)" cx="65.6" cy="197.4" rx="1.5" ry="0.6" fill="rgb(185,185,185)"/><ellipse transform="rotate(-1 72.3 197.0)" cx="72.3" cy="197.0" rx="2.0" ry="0.9" fill="rgb(210,210,210)"/><ellipse transform="rotate(-2 76.4 197.7)" cx="76.4" cy="197.7" rx="2.2" ry="0.9" fill="rgb(235,235,235)"/><ellipse transform="rotate(15 77.7 197.2)" cx="77.7" cy="197.2" rx="2.4" ry="0.6" fill="rgb(244,244,244)"/><ellipse transform="rotate(2 85.0 199.3)" cx="85.0" cy="199.3" rx="2.0" ry="0.7" fill="rgb(255,255,255)"/><ellipse transform="rotate(-3 89.1 198.7)" cx="89.1" cy="198.7" rx="1.4" ry="0.8" fill="rgb(202,202,202)"/><ellipse transform="rotate(2 51.6 200.2)" cx="51.6" cy="200.2" rx="1.6" ry="0.8" fill="rgb(218,218,218)"/><ellipse transform="rotate(-4 62.0 201.7)" cx="62.0" cy="201.7" rx="2.0" ry="0.9" fill="rgb(251,251,251)"/><ellipse transform="rotate(5 69.6 200.8)" cx="69.6" cy="200.8" rx="1.3" ry="0.7" fill="rgb(208,208,208)"/><ellipse transform="rotate(-9 72.2 199.8)" cx="72.2" cy="199.8" rx="2.0" ry="0.6" fill="rgb(192,192,192)"/><ellipse transform="rotate(-15 78.1 201.4)" cx="78.1" cy="201.4" rx="1.4" ry="0.8" fill="rgb(216,216,216)"/><ellipse transform="rotate(-3 80.3 200.6)" cx="80.3" cy="200.6" rx="1.3" ry="0.9" fill="rgb(193,193,193)"/><ellipse transform="rotate(15 86.3 200.7)" cx="86.3" cy="200.7" rx="2.1" ry="0.7" fill="rgb(253,253,253)"/><ellipse transform="rotate(17 89.4 200.8)" cx="89.4" cy="200.8" rx="2.3" ry="0.9" fill="rgb(210,210,210)"/><ellipse transform="rotate(14 55.3 202.2)" cx="55.3" cy="202.2" rx="1.6" ry="0.6" fill="rgb(223,223,223)"/><ellipse transform="rotate(-14 64.8 203.7)" cx="64.8" cy="203.7" rx="1.5" ry="0.9" fill="rgb(244,244,244)"/><ellipse transform="rotate(25 72.3 204.6)" cx="72.3" cy="204.6" rx="2.2" ry="0.6" fill="rgb(240,240,240)"/><ellipse transform="rotate(3 76.2 202.9)" cx="76.2" cy="202.9" rx="1.4" ry="0.7" fill="rgb(228,228,228)"/><ellipse transform="rotate(-19 78.7 202.9)" cx="78.7" cy="202.9" rx="2.0" ry="0.8" fill="rgb(193,193,193)"/><ellipse transform="rotate(-11 90.7 202.2)" cx="90.7" cy="202.2" rx="1.6" ry="0.9" fill="rgb(208,208,208)"/><ellipse transform="rotate(2 93.0 204.4)" cx="93.0" cy="204.4" rx="2.2" ry="0.7" fill="rgb(204,204,204)"/><ellipse transform="rotate(-12 53.2 205.3)" cx="53.2" cy="205.3" rx="2.2" ry="0.6" fill="rgb(194,194,194)"/><ellipse transform="rotate(18 56.4 205.3)" cx="56.4" cy="205.3" rx="2.0" ry="0.6" fill="rgb(218,218,218)"/><ellipse transform="rotate(-23 61.7 206.0)" cx="61.7" cy="206.0" rx="2.3" ry="0.7" fill="rgb(201,201,201)"/><ellipse transform="rotate(6 68.4 207.1)" cx="68.4" cy="207.1" rx="1.6" ry="0.6" fill="rgb(224,224,224)"/><ellipse transform="rotate(25 69.5 205.8)" cx="69.5" cy="205.8" rx="2.0" ry="0.7" fill="rgb(187,187,187)"/><ellipse transform="rotate(22 72.9 205.9)" cx="72.9" cy="205.9" rx="2.4" ry="0.8" fill="rgb(216,216,216)"/><ellipse transform="rotate(24 80.5 205.7)" cx="80.5" cy="205.7" rx="1.8" ry="0.9" fill="rgb(235,235,235)"/><ellipse transform="rotate(-5 82.1 205.2)" cx="82.1" cy="205.2" rx="1.5" ry="0.9" fill="rgb(202,202,202)"/><ellipse transform="rotate(-3 85.7 204.9)" cx="85.7" cy="204.9" rx="1.4" ry="0.8" fill="rgb(217,217,217)"/><ellipse transform="rotate(10 92.4 205.6)" cx="92.4" cy="205.6" rx="1.9" ry="0.9" fill="rgb(216,216,216)"/><ellipse transform="rotate(-9 54.9 207.2)" cx="54.9" cy="207.2" rx="1.7" ry="0.7" fill="rgb(255,255,255)"/><ellipse transform="rotate(-1 61.7 207.8)" cx="61.7" cy="207.8" rx="1.5" ry="0.7" fill="rgb(195,195,195)"/><ellipse transform="rotate(-18 63.1 208.5)" cx="63.1" cy="208.5" rx="1.3" ry="0.7" fill="rgb(196,196,196)"/><ellipse transform="rotate(18 68.1 208.0)" cx="68.1" cy="208.0" rx="2.0" ry="0.6" fill="rgb(252,252,252)"/><ellipse transform="rotate(-18 74.4 209.2)" cx="74.4" cy="209.2" rx="2.0" ry="0.9" fill="rgb(248,248,248)"/><ellipse transform="rotate(12 77.5 207.3)" cx="77.5" cy="207.3" rx="2.2" ry="0.9" fill="rgb(239,239,239)"/><ellipse transform="rotate(-21 85.4 208.5)" cx="85.4" cy="208.5" rx="2.2" ry="0.9" fill="rgb(214,214,214)"/><ellipse transform="rotate(6 90.1 209.7)" cx="90.1" cy="209.7" rx="1.7" ry="0.7" fill="rgb(191,191,191)"/><ellipse transform="rotate(20 94.5 208.5)" cx="94.5" cy="208.5" rx="1.3" ry="0.9" fill="rgb(249,249,249)"/><ellipse transform="rotate(11 56.7 211.0)" cx="56.7" cy="211.0" rx="2.2" ry="0.9" fill="rgb(215,215,215)"/><ellipse transform="rotate(21 60.9 212.3)" cx="60.9" cy="212.3" rx="1.8" ry="0.7" fill="rgb(246,246,246)"/><ellipse transform="rotate(-12 62.2 211.4)" cx="62.2" cy="211.4" rx="1.5" ry="0.8" fill="rgb(227,227,227)"/><ellipse transform="rotate(24 67.5 211.3)" cx="67.5" cy="211.3" rx="1.3" ry="0.6" fill="rgb(219,219,219)"/><ellipse transform="rotate(-2 71.3 211.1)" cx="71.3" cy="211.1" rx="2.1" ry="0.7" fill="rgb(244,244,244)"/><ellipse transform="rotate(-11 78.4 210.3)" cx="78.4" cy="210.3" rx="2.4" ry="0.9" fill="rgb(187,187,187)"/><ellipse transform="rotate(-21 80.9 212.4)" cx="80.9" cy="212.4" rx="2.4" ry="0.7" fill="rgb(211,211,211)"/><ellipse transform="rotate(-11 86.2 210.5)" cx="86.2" cy="210.5" rx="1.7" ry="0.8" fill="rgb(250,250,250)"/><ellipse transform="rotate(-25 88.7 211.1)" cx="88.7" cy="211.1" rx="2.3" ry="0.7" fill="rgb(205,205,205)"/><ellipse transform="rotate(-19 93.3 210.6)" cx="93.3" cy="210.6" rx="1.5" ry="0.7" fill="rgb(225,225,225)"/><ellipse transform="rotate(20 54.0 213.4)" cx="54.0" cy="213.4" rx="2.3" ry="0.6" fill="rgb(186,186,186)"/><ellipse transform="rotate(21 58.4 213.4)" cx="58.4" cy="213.4" rx="2.4" ry="0.8" fill="rgb(231,231,231)"/><ellipse transform="rotate(-13 64.6 213.1)" cx="64.6" cy="213.1" rx="1.4" ry="0.8" fill="rgb(204,204,204)"/><ellipse transform="rotate(16 67.4 212.9)" cx="67.4" cy="212.9" rx="1.7" ry="0.9" fill="rgb(188,188,188)"/><ellipse transform="rotate(22 73.2 214.8)" cx="73.2" cy="214.8" rx="1.9" ry="0.8" fill="rgb(191,191,191)"/><ellipse transform="rotate(-19 76.2 212.8)" cx="76.2" cy="212.8" rx="2.3" ry="0.7" fill="rgb(255,255,255)"/><ellipse transform="rotate(-5 79.3 213.2)" cx="79.3" cy="213.2" rx="2.1" ry="0.9" fill="rgb(218,218,218)"/><ellipse transform="rotate(-15 84.0 214.1)" cx="84.0" cy="214.1" rx="1.4" ry="0.8" fill="rgb(194,194,194)"/><ellipse transform="rotate(2 91.3 214.8)" cx="91.3" cy="214.8" rx="2.4" ry="0.7" fill="rgb(202,202,202)"/><ellipse transform="rotate(19 55.3 215.8)" cx="55.3" cy="215.8" rx="1.7" ry="0.9" fill="rgb(210,210,210)"/><ellipse transform="rotate(13 58.9 216.1)" cx="58.9" cy="216.1" rx="1.9" ry="0.7" fill="rgb(228,228,228)"/><ellipse transform="rotate(-20 63.8 215.9)" cx="63.8" cy="215.9" rx="2.1" ry="0.8" fill="rgb(212,212,212)"/><ellipse transform="rotate(-19 72.5 216.1)" cx="72.5" cy="216.1" rx="1.6" ry="0.9" fill="rgb(187,187,187)"/><ellipse transform="rotate(-5 77.2 217.1)" cx="77.2" cy="217.1" rx="2.4" ry="0.7" fill="rgb(194,194,194)"/><ellipse transform="rotate(-21 53.6 219.0)" cx="53.6" cy="219.0" rx="2.1" ry="0.9" fill="rgb(243,243,243)"/><ellipse transform="rotate(23 57.2 217.9)" cx="57.2" cy="217.9" rx="1.9" ry="0.6" fill="rgb(223,223,223)"/><ellipse transform="rotate(1 63.6 218.7)" cx="63.6" cy="218.7" rx="2.1" ry="0.6" fill="rgb(223,223,223)"/><ellipse transform="rotate(25 67.2 218.2)" cx="67.2" cy="218.2" rx="2.0" ry="0.6" fill="rgb(223,223,223)"/><ellipse transform="rotate(-13 71.1 219.8)" cx="71.1" cy="219.8" rx="1.6" ry="0.8" fill="rgb(255,255,255)"/><ellipse transform="rotate(-21 79.4 217.7)" cx="79.4" cy="217.7" rx="1.8" ry="0.8" fill="rgb(238,238,238)"/><ellipse transform="rotate(-7 84.1 218.6)" cx="84.1" cy="218.6" rx="1.8" ry="0.8" fill="rgb(238,238,238)"/><ellipse transform="rotate(23 86.6 218.4)" cx="86.6" cy="218.4" rx="2.2" ry="0.6" fill="rgb(248,248,248)"/><ellipse transform="rotate(-20 94.2 218.2)" cx="94.2" cy="218.2" rx="1.5" ry="0.9" fill="rgb(222,222,222)"/><ellipse transform="rotate(21 55.1 221.5)" cx="55.1" cy="221.5" rx="2.3" ry="0.6" fill="rgb(203,203,203)"/><ellipse transform="rotate(-5 55.7 221.7)" cx="55.7" cy="221.7" rx="1.8" ry="0.8" fill="rgb(208,208,208)"/><ellipse transform="rotate(12 72.4 222.6)" cx="72.4" cy="222.6" rx="1.7" ry="0.6" fill="rgb(252,252,252)"/><ellipse transform="rotate(-20 75.2 221.2)" cx="75.2" cy="221.2" rx="1.7" ry="0.7" fill="rgb(206,206,206)"/><ellipse transform="rotate(-6 76.9 221.3)" cx="76.9" cy="221.3" rx="2.3" ry="0.8" fill="rgb(211,211,211)"/><ellipse transform="rotate(-6 82.1 222.3)" cx="82.1" cy="222.3" rx="1.4" ry="0.8" fill="rgb(210,210,210)"/><ellipse transform="rotate(-23 90.7 222.5)" cx="90.7" cy="222.5" rx="1.3" ry="0.7" fill="rgb(236,236,236)"/><ellipse transform="rotate(-7 57.7 223.5)" cx="57.7" cy="223.5" rx="2.1" ry="0.9" fill="rgb(228,228,228)"/><ellipse transform="rotate(-10 62.1 222.9)" cx="62.1" cy="222.9" rx="2.1" ry="0.8" fill="rgb(220,220,220)"/><ellipse transform="rotate(-20 64.8 224.9)" cx="64.8" cy="224.9" rx="2.3" ry="0.6" fill="rgb(214,214,214)"/><ellipse transform="rotate(-18 68.4 224.8)" cx="68.4" cy="224.8" rx="2.2" ry="0.9" fill="rgb(248,248,248)"/><ellipse transform="rotate(5 70.7 225.2)" cx="70.7" cy="225.2" rx="1.6" ry="0.8" fill="rgb(204,204,204)"/><ellipse transform="rotate(-5 76.2 223.7)" cx="76.2" cy="223.7" rx="2.2" ry="0.6" fill="rgb(210,210,210)"/><ellipse transform="rotate(24 80.8 224.5)" cx="80.8" cy="224.5" rx="1.8" ry="0.8" fill="rgb(205,205,205)"/><ellipse transform="rotate(-16 92.0 223.1)" cx="92.0" cy="223.1" rx="1.8" ry="0.8" fill="rgb(242,242,242)"/><ellipse transform="rotate(14 57.2 226.0)" cx="57.2" cy="226.0" rx="1.9" ry="0.9" fill="rgb(200,200,200)"/><ellipse transform="rotate(-13 58.8 226.1)" cx="58.8" cy="226.1" rx="1.6" ry="0.7" fill="rgb(241,241,241)"/><ellipse transform="rotate(-12 62.5 227.7)" cx="62.5" cy="227.7" rx="1.9" ry="0.7" fill="rgb(235,235,235)"/><ellipse transform="rotate(-20 68.3 227.1)" cx="68.3" cy="227.1" rx="1.4" ry="0.7" fill="rgb(189,189,189)"/><ellipse transform="rotate(-13 73.7 227.6)" cx="73.7" cy="227.6" rx="2.3" ry="0.6" fill="rgb(222,222,222)"/><ellipse transform="rotate(18 77.0 227.6)" cx="77.0" cy="227.6" rx="1.5" ry="0.6" fill="rgb(250,250,250)"/><ellipse transform="rotate(-14 79.7 227.4)" cx="79.7" cy="227.4" rx="2.3" ry="0.6" fill="rgb(229,229,229)"/><ellipse transform="rotate(16 83.4 225.9)" cx="83.4" cy="225.9" rx="1.6" ry="0.8" fill="rgb(211,211,211)"/><ellipse transform="rotate(2 92.8 227.0)" cx="92.8" cy="227.0" rx="1.4" ry="0.6" fill="rgb(248,248,248)"/></g></g>
<rect x="54.5" y="189.5" width="37.0" height="35.5" fill="none" stroke="#222" stroke-width="1"/>
<rect x="94.0" y="189" width="37.5" height="36.5" fill="#777" filter="url(#nA2)"/>
<g clip-path="url(#cA2)" opacity="0.9"><g filter="url(#bl)"><ellipse transform="rotate(-5 95.3 190.5)" cx="95.3" cy="190.5" rx="2.0" ry="0.6" fill="rgb(205,205,205)"/><ellipse transform="rotate(-4 101.3 190.9)" cx="101.3" cy="190.9" rx="1.8" ry="0.6" fill="rgb(230,230,230)"/><ellipse transform="rotate(-15 104.3 191.2)" cx="104.3" cy="191.2" rx="2.0" ry="0.7" fill="rgb(236,236,236)"/><ellipse transform="rotate(-2 108.6 190.2)" cx="108.6" cy="190.2" rx="2.2" ry="0.7" fill="rgb(231,231,231)"/><ellipse transform="rotate(4 109.0 190.5)" cx="109.0" cy="190.5" rx="2.0" ry="0.9" fill="rgb(196,196,196)"/><ellipse transform="rotate(-20 117.2 190.0)" cx="117.2" cy="190.0" rx="1.5" ry="0.6" fill="rgb(193,193,193)"/><ellipse transform="rotate(24 123.4 191.7)" cx="123.4" cy="191.7" rx="1.5" ry="0.6" fill="rgb(190,190,190)"/><ellipse transform="rotate(7 124.4 191.6)" cx="124.4" cy="191.6" rx="1.7" ry="0.9" fill="rgb(205,205,205)"/><ellipse transform="rotate(-17 92.4 193.1)" cx="92.4" cy="193.1" rx="1.9" ry="0.6" fill="rgb(251,251,251)"/><ellipse transform="rotate(8 96.0 194.5)" cx="96.0" cy="194.5" rx="2.2" ry="0.6" fill="rgb(189,189,189)"/><ellipse transform="rotate(-10 100.7 193.1)" cx="100.7" cy="193.1" rx="2.2" ry="0.9" fill="rgb(238,238,238)"/><ellipse transform="rotate(6 104.5 192.8)" cx="104.5" cy="192.8" rx="1.9" ry="0.6" fill="rgb(185,185,185)"/><ellipse transform="rotate(16 107.7 193.9)" cx="107.7" cy="193.9" rx="2.2" ry="0.7" fill="rgb(207,207,207)"/><ellipse transform="rotate(1 110.9 192.8)" cx="110.9" cy="192.8" rx="1.7" ry="0.9" fill="rgb(249,249,249)"/><ellipse transform="rotate(-21 116.9 192.0)" cx="116.9" cy="192.0" rx="2.1" ry="0.9" fill="rgb(250,250,250)"/><ellipse transform="rotate(25 121.6 193.6)" cx="121.6" cy="193.6" rx="2.2" ry="0.6" fill="rgb(193,193,193)"/><ellipse transform="rotate(9 125.1 192.3)" cx="125.1" cy="192.3" rx="2.4" ry="0.7" fill="rgb(206,206,206)"/><ellipse transform="rotate(20 126.7 194.1)" cx="126.7" cy="194.1" rx="2.0" ry="0.7" fill="rgb(226,226,226)"/><ellipse transform="rotate(5 132.7 192.2)" cx="132.7" cy="192.2" rx="1.9" ry="0.9" fill="rgb(211,211,211)"/><ellipse transform="rotate(9 93.1 195.2)" cx="93.1" cy="195.2" rx="1.7" ry="0.8" fill="rgb(220,220,220)"/><ellipse transform="rotate(23 102.2 194.9)" cx="102.2" cy="194.9" rx="1.9" ry="0.8" fill="rgb(231,231,231)"/><ellipse transform="rotate(6 105.0 196.5)" cx="105.0" cy="196.5" rx="2.3" ry="0.7" fill="rgb(253,253,253)"/><ellipse transform="rotate(-8 109.9 195.3)" cx="109.9" cy="195.3" rx="2.4" ry="0.8" fill="rgb(231,231,231)"/><ellipse transform="rotate(-12 111.5 196.3)" cx="111.5" cy="196.3" rx="2.4" ry="0.7" fill="rgb(251,251,251)"/><ellipse transform="rotate(12 118.2 196.2)" cx="118.2" cy="196.2" rx="2.0" ry="0.7" fill="rgb(185,185,185)"/><ellipse transform="rotate(-18 119.4 196.4)" cx="119.4" cy="196.4" rx="1.8" ry="0.7" fill="rgb(191,191,191)"/><ellipse transform="rotate(1 124.5 194.7)" cx="124.5" cy="194.7" rx="1.3" ry="0.7" fill="rgb(198,198,198)"/><ellipse transform="rotate(-17 127.4 195.4)" cx="127.4" cy="195.4" rx="1.4" ry="0.7" fill="rgb(245,245,245)"/><ellipse transform="rotate(19 132.7 196.6)" cx="132.7" cy="196.6" rx="1.8" ry="0.6" fill="rgb(203,203,203)"/><ellipse transform="rotate(5 92.0 197.4)" cx="92.0" cy="197.4" rx="2.0" ry="0.8" fill="rgb(229,229,229)"/><ellipse transform="rotate(-23 97.1 198.8)" cx="97.1" cy="198.8" rx="1.8" ry="0.6" fill="rgb(185,185,185)"/><ellipse transform="rotate(6 100.2 198.1)" cx="100.2" cy="198.1" rx="1.4" ry="0.9" fill="rgb(186,186,186)"/><ellipse transform="rotate(16 103.2 198.6)" cx="103.2" cy="198.6" rx="1.9" ry="0.8" fill="rgb(238,238,238)"/><ellipse transform="rotate(11 107.4 198.2)" cx="107.4" cy="198.2" rx="1.4" ry="0.9" fill="rgb(246,246,246)"/><ellipse transform="rotate(-16 113.2 199.5)" cx="113.2" cy="199.5" rx="1.8" ry="0.8" fill="rgb(242,242,242)"/><ellipse transform="rotate(11 120.1 197.7)" cx="120.1" cy="197.7" rx="2.3" ry="0.9" fill="rgb(218,218,218)"/><ellipse transform="rotate(-10 123.5 198.6)" cx="123.5" cy="198.6" rx="2.2" ry="0.8" fill="rgb(218,218,218)"/><ellipse transform="rotate(12 94.3 202.7)" cx="94.3" cy="202.7" rx="2.2" ry="0.6" fill="rgb(205,205,205)"/><ellipse transform="rotate(-2 100.8 201.1)" cx="100.8" cy="201.1" rx="1.6" ry="0.9" fill="rgb(253,253,253)"/><ellipse transform="rotate(14 108.3 201.4)" cx="108.3" cy="201.4" rx="2.1" ry="0.8" fill="rgb(224,224,224)"/><ellipse transform="rotate(-20 111.1 201.8)" cx="111.1" cy="201.8" rx="1.5" ry="0.6" fill="rgb(199,199,199)"/><ellipse transform="rotate(10 117.0 200.3)" cx="117.0" cy="200.3" rx="1.3" ry="0.8" fill="rgb(190,190,190)"/><ellipse transform="rotate(20 120.5 201.9)" cx="120.5" cy="201.9" rx="1.7" ry="0.9" fill="rgb(253,253,253)"/><ellipse transform="rotate(-15 127.4 202.8)" cx="127.4" cy="202.8" rx="2.3" ry="0.6" fill="rgb(211,211,211)"/><ellipse transform="rotate(-1 131.5 202.8)" cx="131.5" cy="202.8" rx="2.1" ry="0.6" fill="rgb(221,221,221)"/><ellipse transform="rotate(-12 96.0 203.8)" cx="96.0" cy="203.8" rx="1.7" ry="0.7" fill="rgb(229,229,229)"/><ellipse transform="rotate(-1 100.0 204.0)" cx="100.0" cy="204.0" rx="1.7" ry="0.9" fill="rgb(249,249,249)"/><ellipse transform="rotate(-8 103.9 205.2)" cx="103.9" cy="205.2" rx="1.3" ry="0.8" fill="rgb(197,197,197)"/><ellipse transform="rotate(-16 106.9 203.6)" cx="106.9" cy="203.6" rx="2.2" ry="0.6" fill="rgb(221,221,221)"/><ellipse transform="rotate(-20 109.5 205.1)" cx="109.5" cy="205.1" rx="2.4" ry="0.6" fill="rgb(247,247,247)"/><ellipse transform="rotate(-12 115.6 205.7)" cx="115.6" cy="205.7" rx="2.0" ry="0.9" fill="rgb(250,250,250)"/><ellipse transform="rotate(-0 120.9 205.0)" cx="120.9" cy="205.0" rx="1.8" ry="0.6" fill="rgb(195,195,195)"/><ellipse transform="rotate(-4 128.1 203.9)" cx="128.1" cy="203.9" rx="1.4" ry="0.9" fill="rgb(196,196,196)"/><ellipse transform="rotate(-6 132.9 203.8)" cx="132.9" cy="203.8" rx="1.8" ry="0.8" fill="rgb(206,206,206)"/><ellipse transform="rotate(-8 92.4 207.3)" cx="92.4" cy="207.3" rx="2.1" ry="0.9" fill="rgb(189,189,189)"/><ellipse transform="rotate(-2 95.0 208.2)" cx="95.0" cy="208.2" rx="2.0" ry="0.8" fill="rgb(206,206,206)"/><ellipse transform="rotate(0 99.2 206.4)" cx="99.2" cy="206.4" rx="1.7" ry="0.8" fill="rgb(215,215,215)"/><ellipse transform="rotate(11 104.9 208.1)" cx="104.9" cy="208.1" rx="2.0" ry="0.8" fill="rgb(216,216,216)"/><ellipse transform="rotate(-17 107.2 206.5)" cx="107.2" cy="206.5" rx="2.4" ry="0.7" fill="rgb(198,198,198)"/><ellipse transform="rotate(-3 110.4 206.2)" cx="110.4" cy="206.2" rx="1.5" ry="0.7" fill="rgb(223,223,223)"/><ellipse transform="rotate(-24 115.9 206.1)" cx="115.9" cy="206.1" rx="1.5" ry="0.7" fill="rgb(189,189,189)"/><ellipse transform="rotate(5 121.9 208.5)" cx="121.9" cy="208.5" rx="1.6" ry="0.6" fill="rgb(217,217,217)"/><ellipse transform="rotate(17 127.7 208.3)" cx="127.7" cy="208.3" rx="1.8" ry="0.8" fill="rgb(238,238,238)"/><ellipse transform="rotate(9 131.1 208.3)" cx="131.1" cy="208.3" rx="2.0" ry="0.8" fill="rgb(214,214,214)"/><ellipse transform="rotate(11 92.8 210.4)" cx="92.8" cy="210.4" rx="1.4" ry="0.7" fill="rgb(236,236,236)"/><ellipse transform="rotate(1 96.3 209.8)" cx="96.3" cy="209.8" rx="1.8" ry="0.8" fill="rgb(237,237,237)"/><ellipse transform="rotate(20 102.5 211.1)" cx="102.5" cy="211.1" rx="1.7" ry="0.6" fill="rgb(247,247,247)"/><ellipse transform="rotate(1 103.9 209.2)" cx="103.9" cy="209.2" rx="2.1" ry="0.9" fill="rgb(210,210,210)"/><ellipse transform="rotate(1 108.9 210.1)" cx="108.9" cy="210.1" rx="2.1" ry="0.8" fill="rgb(232,232,232)"/><ellipse transform="rotate(11 114.2 209.2)" cx="114.2" cy="209.2" rx="2.1" ry="0.7" fill="rgb(200,200,200)"/><ellipse transform="rotate(-4 116.8 209.3)" cx="116.8" cy="209.3" rx="1.7" ry="0.6" fill="rgb(194,194,194)"/><ellipse transform="rotate(22 120.8 209.6)" cx="120.8" cy="209.6" rx="1.6" ry="0.6" fill="rgb(236,236,236)"/><ellipse transform="rotate(21 122.8 210.8)" cx="122.8" cy="210.8" rx="1.7" ry="0.6" fill="rgb(201,201,201)"/><ellipse transform="rotate(-7 128.8 209.1)" cx="128.8" cy="209.1" rx="2.0" ry="0.8" fill="rgb(203,203,203)"/><ellipse transform="rotate(7 132.7 210.9)" cx="132.7" cy="210.9" rx="1.8" ry="0.7" fill="rgb(255,255,255)"/><ellipse transform="rotate(9 94.0 212.0)" cx="94.0" cy="212.0" rx="2.1" ry="0.8" fill="rgb(239,239,239)"/><ellipse transform="rotate(-1 97.9 213.6)" cx="97.9" cy="213.6" rx="1.7" ry="0.8" fill="rgb(226,226,226)"/><ellipse transform="rotate(-22 101.1 213.2)" cx="101.1" cy="213.2" rx="1.7" ry="0.9" fill="rgb(234,234,234)"/><ellipse transform="rotate(-15 110.6 213.7)" cx="110.6" cy="213.7" rx="2.0" ry="0.6" fill="rgb(186,186,186)"/><ellipse transform="rotate(14 114.9 213.1)" cx="114.9" cy="213.1" rx="1.9" ry="0.9" fill="rgb(208,208,208)"/><ellipse transform="rotate(8 118.2 213.9)" cx="118.2" cy="213.9" rx="2.2" ry="0.6" fill="rgb(196,196,196)"/><ellipse transform="rotate(9 128.4 212.0)" cx="128.4" cy="212.0" rx="2.1" ry="0.8" fill="rgb(241,241,241)"/><ellipse transform="rotate(-1 129.5 212.6)" cx="129.5" cy="212.6" rx="2.2" ry="0.7" fill="rgb(192,192,192)"/><ellipse transform="rotate(17 91.5 214.7)" cx="91.5" cy="214.7" rx="2.0" ry="0.8" fill="rgb(205,205,205)"/><ellipse transform="rotate(25 96.5 216.1)" cx="96.5" cy="216.1" rx="2.2" ry="0.7" fill="rgb(238,238,238)"/><ellipse transform="rotate(9 98.8 215.2)" cx="98.8" cy="215.2" rx="2.0" ry="0.6" fill="rgb(190,190,190)"/><ellipse transform="rotate(-14 109.5 215.6)" cx="109.5" cy="215.6" rx="1.8" ry="0.9" fill="rgb(189,189,189)"/><ellipse transform="rotate(3 110.0 214.5)" cx="110.0" cy="214.5" rx="2.0" ry="0.7" fill="rgb(252,252,252)"/><ellipse transform="rotate(16 118.5 214.9)" cx="118.5" cy="214.9" rx="1.4" ry="0.7" fill="rgb(230,230,230)"/><ellipse transform="rotate(15 122.9 215.0)" cx="122.9" cy="215.0" rx="1.9" ry="0.9" fill="rgb(248,248,248)"/><ellipse transform="rotate(-5 126.0 215.0)" cx="126.0" cy="215.0" rx="1.9" ry="0.8" fill="rgb(190,190,190)"/><ellipse transform="rotate(-16 130.1 215.8)" cx="130.1" cy="215.8" rx="1.7" ry="0.6" fill="rgb(190,190,190)"/><ellipse transform="rotate(6 93.0 219.2)" cx="93.0" cy="219.2" rx="2.3" ry="0.8" fill="rgb(203,203,203)"/><ellipse transform="rotate(6 96.6 218.9)" cx="96.6" cy="218.9" rx="1.5" ry="0.8" fill="rgb(243,243,243)"/><ellipse transform="rotate(-7 100.6 219.4)" cx="100.6" cy="219.4" rx="1.8" ry="0.6" fill="rgb(186,186,186)"/><ellipse transform="rotate(-24 107.8 217.7)" cx="107.8" cy="217.7" rx="1.6" ry="0.7" fill="rgb(225,225,225)"/><ellipse transform="rotate(14 111.7 219.6)" cx="111.7" cy="219.6" rx="1.8" ry="0.8" fill="rgb(200,200,200)"/><ellipse transform="rotate(-1 115.9 218.1)" cx="115.9" cy="218.1" rx="1.4" ry="0.8" fill="rgb(204,204,204)"/><ellipse transform="rotate(-4 117.5 218.8)" cx="117.5" cy="218.8" rx="1.5" ry="0.6" fill="rgb(186,186,186)"/><ellipse transform="rotate(-19 123.4 219.8)" cx="123.4" cy="219.8" rx="2.2" ry="0.6" fill="rgb(200,200,200)"/><ellipse transform="rotate(-7 127.4 217.7)" cx="127.4" cy="217.7" rx="2.1" ry="0.6" fill="rgb(191,191,191)"/><ellipse transform="rotate(-2 131.1 217.4)" cx="131.1" cy="217.4" rx="2.1" ry="0.7" fill="rgb(248,248,248)"/><ellipse transform="rotate(-6 94.1 221.8)" cx="94.1" cy="221.8" rx="1.3" ry="0.6" fill="rgb(195,195,195)"/><ellipse transform="rotate(-7 96.5 222.5)" cx="96.5" cy="222.5" rx="2.2" ry="0.8" fill="rgb(225,225,225)"/><ellipse transform="rotate(23 99.7 221.7)" cx="99.7" cy="221.7" rx="1.5" ry="0.9" fill="rgb(231,231,231)"/><ellipse transform="rotate(14 104.9 221.1)" cx="104.9" cy="221.1" rx="2.2" ry="0.7" fill="rgb(219,219,219)"/><ellipse transform="rotate(18 106.8 220.0)" cx="106.8" cy="220.0" rx="2.4" ry="0.8" fill="rgb(227,227,227)"/><ellipse transform="rotate(-6 109.5 220.2)" cx="109.5" cy="220.2" rx="2.2" ry="0.8" fill="rgb(216,216,216)"/><ellipse transform="rotate(-9 115.5 222.3)" cx="115.5" cy="222.3" rx="2.2" ry="0.7" fill="rgb(185,185,185)"/><ellipse transform="rotate(17 117.7 222.4)" cx="117.7" cy="222.4" rx="2.1" ry="0.9" fill="rgb(221,221,221)"/><ellipse transform="rotate(-8 129.5 222.2)" cx="129.5" cy="222.2" rx="2.2" ry="0.8" fill="rgb(248,248,248)"/><ellipse transform="rotate(-10 96.7 223.2)" cx="96.7" cy="223.2" rx="2.1" ry="0.9" fill="rgb(214,214,214)"/><ellipse transform="rotate(15 99.0 224.6)" cx="99.0" cy="224.6" rx="2.3" ry="0.8" fill="rgb(186,186,186)"/><ellipse transform="rotate(20 101.6 224.9)" cx="101.6" cy="224.9" rx="2.1" ry="0.6" fill="rgb(251,251,251)"/><ellipse transform="rotate(15 110.7 224.3)" cx="110.7" cy="224.3" rx="1.5" ry="0.6" fill="rgb(208,208,208)"/><ellipse transform="rotate(-23 114.9 223.6)" cx="114.9" cy="223.6" rx="2.2" ry="0.9" fill="rgb(216,216,216)"/><ellipse transform="rotate(-8 120.7 224.4)" cx="120.7" cy="224.4" rx="2.2" ry="0.6" fill="rgb(188,188,188)"/><ellipse transform="rotate(4 124.2 222.7)" cx="124.2" cy="222.7" rx="2.4" ry="0.9" fill="rgb(247,247,247)"/><ellipse transform="rotate(-12 131.4 223.4)" cx="131.4" cy="223.4" rx="1.4" ry="0.7" fill="rgb(201,201,201)"/><ellipse transform="rotate(-1 94.5 225.6)" cx="94.5" cy="225.6" rx="1.4" ry="0.8" fill="rgb(243,243,243)"/><ellipse transform="rotate(7 112.6 227.4)" cx="112.6" cy="227.4" rx="1.4" ry="0.7" fill="rgb(214,214,214)"/><ellipse transform="rotate(-16 118.1 226.7)" cx="118.1" cy="226.7" rx="1.5" ry="0.9" fill="rgb(213,213,213)"/><ellipse transform="rotate(10 130.2 225.5)" cx="130.2" cy="225.5" rx="2.3" ry="0.7" fill="rgb(250,250,250)"/></g></g>
<rect x="94.5" y="189.5" width="36.5" height="35.5" fill="none" stroke="#222" stroke-width="1"/>
<rect x="134.0" y="189" width="37.5" height="36.5" fill="#777" filter="url(#nA3)"/>
<g clip-path="url(#cA3)" opacity="0.9"><g filter="url(#bl)"><ellipse transform="rotate(4 136.0 191.0)" cx="136.0" cy="191.0" rx="2.3" ry="0.8" fill="rgb(223,223,223)"/><ellipse transform="rotate(-1 142.0 190.3)" cx="142.0" cy="190.3" rx="1.7" ry="0.7" fill="rgb(232,232,232)"/><ellipse transform="rotate(15 144.4 189.4)" cx="144.4" cy="189.4" rx="2.0" ry="0.6" fill="rgb(209,209,209)"/><ellipse transform="rotate(14 150.7 189.2)" cx="150.7" cy="189.2" rx="2.0" ry="0.7" fill="rgb(202,202,202)"/><ellipse transform="rotate(-1 159.5 189.2)" cx="159.5" cy="189.2" rx="2.4" ry="0.7" fill="rgb(214,214,214)"/><ellipse transform="rotate(19 164.0 189.6)" cx="164.0" cy="189.6" rx="1.4" ry="0.8" fill="rgb(255,255,255)"/><ellipse transform="rotate(-8 168.0 190.1)" cx="168.0" cy="190.1" rx="1.6" ry="0.6" fill="rgb(222,222,222)"/><ellipse transform="rotate(-22 173.4 189.9)" cx="173.4" cy="189.9" rx="2.3" ry="0.6" fill="rgb(250,250,250)"/><ellipse transform="rotate(24 131.3 193.0)" cx="131.3" cy="193.0" rx="1.6" ry="0.7" fill="rgb(210,210,210)"/><ellipse transform="rotate(20 135.5 192.3)" cx="135.5" cy="192.3" rx="1.6" ry="0.7" fill="rgb(238,238,238)"/><ellipse transform="rotate(-8 141.3 192.5)" cx="141.3" cy="192.5" rx="2.4" ry="0.6" fill="rgb(249,249,249)"/><ellipse transform="rotate(-23 142.4 193.9)" cx="142.4" cy="193.9" rx="1.9" ry="0.6" fill="rgb(240,240,240)"/><ellipse transform="rotate(11 147.5 192.2)" cx="147.5" cy="192.2" rx="2.2" ry="0.8" fill="rgb(214,214,214)"/><ellipse transform="rotate(-16 150.7 191.9)" cx="150.7" cy="191.9" rx="2.0" ry="0.7" fill="rgb(220,220,220)"/><ellipse transform="rotate(-22 157.1 193.4)" cx="157.1" cy="193.4" rx="1.5" ry="0.7" fill="rgb(186,186,186)"/><ellipse transform="rotate(-11 160.1 193.6)" cx="160.1" cy="193.6" rx="1.4" ry="0.9" fill="rgb(227,227,227)"/><ellipse transform="rotate(19 166.2 191.9)" cx="166.2" cy="191.9" rx="1.8" ry="0.9" fill="rgb(202,202,202)"/><ellipse transform="rotate(4 167.2 193.9)" cx="167.2" cy="193.9" rx="1.7" ry="0.6" fill="rgb(232,232,232)"/><ellipse transform="rotate(4 142.0 195.1)" cx="142.0" cy="195.1" rx="2.2" ry="0.9" fill="rgb(233,233,233)"/><ellipse transform="rotate(-18 149.0 196.4)" cx="149.0" cy="196.4" rx="1.8" ry="0.6" fill="rgb(253,253,253)"/><ellipse transform="rotate(-24 152.9 196.1)" cx="152.9" cy="196.1" rx="1.5" ry="0.7" fill="rgb(188,188,188)"/><ellipse transform="rotate(10 161.6 196.7)" cx="161.6" cy="196.7" rx="2.0" ry="0.7" fill="rgb(215,215,215)"/><ellipse transform="rotate(4 168.1 196.3)" cx="168.1" cy="196.3" rx="1.3" ry="0.6" fill="rgb(248,248,248)"/><ellipse transform="rotate(18 169.0 194.7)" cx="169.0" cy="194.7" rx="2.3" ry="0.8" fill="rgb(214,214,214)"/><ellipse transform="rotate(10 136.4 197.5)" cx="136.4" cy="197.5" rx="2.2" ry="0.9" fill="rgb(234,234,234)"/><ellipse transform="rotate(-8 139.8 197.2)" cx="139.8" cy="197.2" rx="2.4" ry="0.6" fill="rgb(231,231,231)"/><ellipse transform="rotate(16 142.8 198.3)" cx="142.8" cy="198.3" rx="2.4" ry="0.9" fill="rgb(226,226,226)"/><ellipse transform="rotate(8 151.5 199.7)" cx="151.5" cy="199.7" rx="2.3" ry="0.6" fill="rgb(239,239,239)"/><ellipse transform="rotate(-14 153.8 197.6)" cx="153.8" cy="197.6" rx="1.7" ry="0.6" fill="rgb(187,187,187)"/><ellipse transform="rotate(-23 159.0 199.8)" cx="159.0" cy="199.8" rx="1.8" ry="0.6" fill="rgb(190,190,190)"/><ellipse transform="rotate(6 162.5 198.9)" cx="162.5" cy="198.9" rx="1.6" ry="0.8" fill="rgb(189,189,189)"/><ellipse transform="rotate(-8 167.5 198.3)" cx="167.5" cy="198.3" rx="2.3" ry="0.7" fill="rgb(224,224,224)"/><ellipse transform="rotate(-2 169.7 199.7)" cx="169.7" cy="199.7" rx="2.3" ry="0.9" fill="rgb(195,195,195)"/><ellipse transform="rotate(-11 132.4 200.2)" cx="132.4" cy="200.2" rx="1.6" ry="0.7" fill="rgb(221,221,221)"/><ellipse transform="rotate(8 138.8 200.6)" cx="138.8" cy="200.6" rx="1.8" ry="0.8" fill="rgb(213,213,213)"/><ellipse transform="rotate(16 142.7 201.0)" cx="142.7" cy="201.0" rx="1.9" ry="0.8" fill="rgb(245,245,245)"/><ellipse transform="rotate(-24 145.2 200.3)" cx="145.2" cy="200.3" rx="1.9" ry="0.9" fill="rgb(235,235,235)"/><ellipse transform="rotate(19 151.3 200.4)" cx="151.3" cy="200.4" rx="1.9" ry="0.7" fill="rgb(221,221,221)"/><ellipse transform="rotate(-3 152.1 199.9)" cx="152.1" cy="199.9" rx="1.9" ry="0.8" fill="rgb(229,229,229)"/><ellipse transform="rotate(24 157.4 201.0)" cx="157.4" cy="201.0" rx="2.1" ry="0.6" fill="rgb(213,213,213)"/><ellipse transform="rotate(6 163.6 200.9)" cx="163.6" cy="200.9" rx="2.0" ry="0.6" fill="rgb(210,210,210)"/><ellipse transform="rotate(-4 134.9 204.6)" cx="134.9" cy="204.6" rx="1.8" ry="0.9" fill="rgb(201,201,201)"/><ellipse transform="rotate(-4 137.6 204.0)" cx="137.6" cy="204.0" rx="1.4" ry="0.7" fill="rgb(204,204,204)"/><ellipse transform="rotate(-11 143.4 204.1)" cx="143.4" cy="204.1" rx="1.7" ry="0.7" fill="rgb(243,243,243)"/><ellipse transform="rotate(14 145.3 203.9)" cx="145.3" cy="203.9" rx="2.0" ry="0.8" fill="rgb(185,185,185)"/><ellipse transform="rotate(4 153.7 203.0)" cx="153.7" cy="203.0" rx="1.6" ry="0.6" fill="rgb(233,233,233)"/><ellipse transform="rotate(-15 159.6 203.4)" cx="159.6" cy="203.4" rx="2.2" ry="0.9" fill="rgb(226,226,226)"/><ellipse transform="rotate(-10 163.6 202.5)" cx="163.6" cy="202.5" rx="1.4" ry="0.8" fill="rgb(248,248,248)"/><ellipse transform="rotate(-6 165.2 204.2)" cx="165.2" cy="204.2" rx="1.8" ry="0.9" fill="rgb(240,240,240)"/><ellipse transform="rotate(-14 170.3 203.4)" cx="170.3" cy="203.4" rx="2.3" ry="0.8" fill="rgb(252,252,252)"/><ellipse transform="rotate(-1 135.0 207.7)" cx="135.0" cy="207.7" rx="1.5" ry="0.6" fill="rgb(238,238,238)"/><ellipse transform="rotate(-16 138.9 207.9)" cx="138.9" cy="207.9" rx="1.7" ry="0.8" fill="rgb(196,196,196)"/><ellipse transform="rotate(9 144.3 207.4)" cx="144.3" cy="207.4" rx="1.9" ry="0.6" fill="rgb(222,222,222)"/><ellipse transform="rotate(-4 157.0 206.0)" cx="157.0" cy="206.0" rx="1.9" ry="0.8" fill="rgb(209,209,209)"/><ellipse transform="rotate(10 162.6 205.5)" cx="162.6" cy="205.5" rx="1.9" ry="0.8" fill="rgb(190,190,190)"/><ellipse transform="rotate(17 164.4 207.1)" cx="164.4" cy="207.1" rx="1.9" ry="0.9" fill="rgb(235,235,235)"/><ellipse transform="rotate(19 171.0 205.7)" cx="171.0" cy="205.7" rx="1.8" ry="0.8" fill="rgb(219,219,219)"/><ellipse transform="rotate(13 131.0 208.4)" cx="131.0" cy="208.4" rx="2.0" ry="0.6" fill="rgb(251,251,251)"/><ellipse transform="rotate(15 134.8 208.4)" cx="134.8" cy="208.4" rx="1.9" ry="0.9" fill="rgb(240,240,240)"/><ellipse transform="rotate(-11 138.5 210.0)" cx="138.5" cy="210.0" rx="1.7" ry="0.8" fill="rgb(230,230,230)"/><ellipse transform="rotate(-3 144.9 210.2)" cx="144.9" cy="210.2" rx="2.3" ry="0.6" fill="rgb(209,209,209)"/><ellipse transform="rotate(-22 146.6 210.3)" cx="146.6" cy="210.3" rx="1.9" ry="0.9" fill="rgb(241,241,241)"/><ellipse transform="rotate(20 151.3 208.3)" cx="151.3" cy="208.3" rx="1.9" ry="0.6" fill="rgb(185,185,185)"/><ellipse transform="rotate(9 160.8 210.5)" cx="160.8" cy="210.5" rx="1.8" ry="0.9" fill="rgb(216,216,216)"/><ellipse transform="rotate(15 164.8 209.0)" cx="164.8" cy="209.0" rx="1.7" ry="0.8" fill="rgb(187,187,187)"/><ellipse transform="rotate(-5 167.1 208.9)" cx="167.1" cy="208.9" rx="1.5" ry="0.9" fill="rgb(222,222,222)"/><ellipse transform="rotate(-4 171.8 210.3)" cx="171.8" cy="210.3" rx="1.7" ry="0.8" fill="rgb(200,200,200)"/><ellipse transform="rotate(8 131.9 211.9)" cx="131.9" cy="211.9" rx="1.7" ry="0.7" fill="rgb(220,220,220)"/><ellipse transform="rotate(3 135.0 212.5)" cx="135.0" cy="212.5" rx="1.4" ry="0.7" fill="rgb(201,201,201)"/><ellipse transform="rotate(-6 141.5 211.2)" cx="141.5" cy="211.2" rx="1.7" ry="0.6" fill="rgb(236,236,236)"/><ellipse transform="rotate(22 150.2 212.0)" cx="150.2" cy="212.0" rx="1.6" ry="0.7" fill="rgb(201,201,201)"/><ellipse transform="rotate(-14 156.1 213.3)" cx="156.1" cy="213.3" rx="1.9" ry="0.7" fill="rgb(250,250,250)"/><ellipse transform="rotate(-24 164.4 212.1)" cx="164.4" cy="212.1" rx="1.6" ry="0.9" fill="rgb(234,234,234)"/><ellipse transform="rotate(-9 166.9 210.6)" cx="166.9" cy="210.6" rx="2.1" ry="0.8" fill="rgb(214,214,214)"/><ellipse transform="rotate(-15 170.8 212.1)" cx="170.8" cy="212.1" rx="1.7" ry="0.8" fill="rgb(223,223,223)"/><ellipse transform="rotate(14 132.3 215.5)" cx="132.3" cy="215.5" rx="1.7" ry="0.7" fill="rgb(244,244,244)"/><ellipse transform="rotate(20 144.2 213.4)" cx="144.2" cy="213.4" rx="2.0" ry="0.8" fill="rgb(229,229,229)"/><ellipse transform="rotate(-16 149.9 214.5)" cx="149.9" cy="214.5" rx="2.4" ry="0.7" fill="rgb(197,197,197)"/><ellipse transform="rotate(5 154.8 215.3)" cx="154.8" cy="215.3" rx="2.1" ry="0.6" fill="rgb(190,190,190)"/><ellipse transform="rotate(3 158.2 213.7)" cx="158.2" cy="213.7" rx="2.1" ry="0.8" fill="rgb(207,207,207)"/><ellipse transform="rotate(22 161.1 214.7)" cx="161.1" cy="214.7" rx="2.3" ry="0.8" fill="rgb(229,229,229)"/><ellipse transform="rotate(24 166.2 215.1)" cx="166.2" cy="215.1" rx="2.3" ry="0.9" fill="rgb(191,191,191)"/><ellipse transform="rotate(-4 167.3 214.2)" cx="167.3" cy="214.2" rx="2.2" ry="0.7" fill="rgb(196,196,196)"/><ellipse transform="rotate(22 175.1 215.0)" cx="175.1" cy="215.0" rx="1.5" ry="0.8" fill="rgb(229,229,229)"/><ellipse transform="rotate(9 139.3 218.2)" cx="139.3" cy="218.2" rx="2.0" ry="0.7" fill="rgb(191,191,191)"/><ellipse transform="rotate(-23 143.0 218.3)" cx="143.0" cy="218.3" rx="2.2" ry="0.7" fill="rgb(209,209,209)"/><ellipse transform="rotate(2 147.5 216.7)" cx="147.5" cy="216.7" rx="1.9" ry="0.9" fill="rgb(215,215,215)"/><ellipse transform="rotate(-18 148.5 217.0)" cx="148.5" cy="217.0" rx="1.8" ry="0.6" fill="rgb(224,224,224)"/><ellipse transform="rotate(-18 154.2 217.3)" cx="154.2" cy="217.3" rx="2.1" ry="0.6" fill="rgb(241,241,241)"/><ellipse transform="rotate(-8 159.1 216.4)" cx="159.1" cy="216.4" rx="2.1" ry="0.8" fill="rgb(215,215,215)"/><ellipse transform="rotate(17 167.3 216.5)" cx="167.3" cy="216.5" rx="2.0" ry="0.8" fill="rgb(244,244,244)"/><ellipse transform="rotate(-22 169.1 217.9)" cx="169.1" cy="217.9" rx="1.3" ry="0.7" fill="rgb(190,190,190)"/><ellipse transform="rotate(3 135.7 219.9)" cx="135.7" cy="219.9" rx="1.4" ry="0.7" fill="rgb(244,244,244)"/><ellipse transform="rotate(-21 139.1 218.8)" cx="139.1" cy="218.8" rx="1.8" ry="0.9" fill="rgb(247,247,247)"/><ellipse transform="rotate(-1 144.8 220.2)" cx="144.8" cy="220.2" rx="1.4" ry="0.7" fill="rgb(240,240,240)"/><ellipse transform="rotate(8 146.2 219.7)" cx="146.2" cy="219.7" rx="1.4" ry="0.7" fill="rgb(217,217,217)"/><ellipse transform="rotate(-16 151.9 218.8)" cx="151.9" cy="218.8" rx="1.7" ry="0.6" fill="rgb(232,232,232)"/><ellipse transform="rotate(12 156.3 221.2)" cx="156.3" cy="221.2" rx="1.5" ry="0.9" fill="rgb(224,224,224)"/><ellipse transform="rotate(21 157.6 220.9)" cx="157.6" cy="220.9" rx="1.7" ry="0.7" fill="rgb(255,255,255)"/><ellipse transform="rotate(20 165.1 219.0)" cx="165.1" cy="219.0" rx="2.2" ry="0.9" fill="rgb(236,236,236)"/><ellipse transform="rotate(-17 132.7 222.2)" cx="132.7" cy="222.2" rx="1.9" ry="0.6" fill="rgb(214,214,214)"/><ellipse transform="rotate(-14 139.9 221.6)" cx="139.9" cy="221.6" rx="1.3" ry="0.7" fill="rgb(209,209,209)"/><ellipse transform="rotate(-11 140.2 223.0)" cx="140.2" cy="223.0" rx="2.2" ry="0.8" fill="rgb(203,203,203)"/><ellipse transform="rotate(20 146.1 222.5)" cx="146.1" cy="222.5" rx="1.7" ry="0.7" fill="rgb(207,207,207)"/><ellipse transform="rotate(-2 149.2 222.6)" cx="149.2" cy="222.6" rx="1.9" ry="0.7" fill="rgb(210,210,210)"/><ellipse transform="rotate(24 154.1 222.6)" cx="154.1" cy="222.6" rx="1.9" ry="0.8" fill="rgb(204,204,204)"/><ellipse transform="rotate(3 163.3 221.6)" cx="163.3" cy="221.6" rx="2.0" ry="0.8" fill="rgb(223,223,223)"/><ellipse transform="rotate(19 165.5 223.2)" cx="165.5" cy="223.2" rx="1.5" ry="0.9" fill="rgb(252,252,252)"/><ellipse transform="rotate(3 168.8 223.2)" cx="168.8" cy="223.2" rx="1.8" ry="0.6" fill="rgb(232,232,232)"/><ellipse transform="rotate(2 131.2 225.3)" cx="131.2" cy="225.3" rx="1.6" ry="0.6" fill="rgb(210,210,210)"/><ellipse transform="rotate(10 137.7 224.8)" cx="137.7" cy="224.8" rx="1.4" ry="0.8" fill="rgb(217,217,217)"/><ellipse transform="rotate(18 140.1 225.6)" cx="140.1" cy="225.6" rx="2.1" ry="0.8" fill="rgb(195,195,195)"/><ellipse transform="rotate(6 145.4 224.5)" cx="145.4" cy="224.5" rx="1.9" ry="0.8" fill="rgb(199,199,199)"/><ellipse transform="rotate(3 152.1 226.0)" cx="152.1" cy="226.0" rx="1.9" ry="0.9" fill="rgb(209,209,209)"/><ellipse transform="rotate(-23 154.8 226.2)" cx="154.8" cy="226.2" rx="1.4" ry="0.6" fill="rgb(232,232,232)"/><ellipse transform="rotate(6 162.0 225.3)" cx="162.0" cy="225.3" rx="1.4" ry="0.6" fill="rgb(196,196,196)"/><ellipse transform="rotate(15 169.9 226.5)" cx="169.9" cy="226.5" rx="1.5" ry="0.8" fill="rgb(228,228,228)"/><ellipse transform="rotate(22 170.3 224.8)" cx="170.3" cy="224.8" rx="1.6" ry="0.8" fill="rgb(252,252,252)"/></g></g>
<rect x="134.5" y="189.5" width="36.5" height="35.5" fill="none" stroke="#222" stroke-width="1"/>
<clipPath id="cB1"><rect x="195.4" y="189.3" width="37.7" height="36"/></clipPath><clipPath id="cB2"><rect x="235.3" y="189.3" width="37.1" height="36"/></clipPath><clipPath id="cB3"><rect x="274.1" y="189.3" width="37.9" height="36"/></clipPath>
<rect x="195.4" y="189.3" width="37.7" height="36" fill="#3a3a3a"/>
<rect x="195.4" y="189.3" width="37.7" height="36" fill="#555" filter="url(#nB1)" opacity="0.35"/>
<g clip-path="url(#cB1)"><g filter="url(#bl)"><circle cx="195.5" cy="190.2" r="0.9" fill="rgb(183,183,183)"/><circle cx="203.2" cy="189.4" r="0.9" fill="rgb(234,234,234)"/><circle cx="207.3" cy="191.5" r="1.0" fill="rgb(227,227,227)"/><circle cx="208.2" cy="191.9" r="1.1" fill="rgb(213,213,213)"/><circle cx="213.8" cy="189.6" r="1.0" fill="rgb(215,215,215)"/><ellipse cx="217.2" cy="191.6" rx="1.6" ry="0.9" fill="rgb(218,218,218)"/><circle cx="219.8" cy="192.1" r="1.0" fill="rgb(194,194,194)"/><circle cx="221.7" cy="190.2" r="0.9" fill="rgb(199,199,199)"/><ellipse cx="225.7" cy="192.0" rx="1.4" ry="0.7" fill="rgb(215,215,215)"/><circle cx="230.4" cy="191.4" r="1.1" fill="rgb(191,191,191)"/><ellipse cx="232.1" cy="190.2" rx="1.8" ry="1.0" fill="rgb(241,241,241)"/><circle cx="197.9" cy="192.7" r="1.2" fill="rgb(210,210,210)"/><circle cx="201.5" cy="194.3" r="1.1" fill="rgb(197,197,197)"/><circle cx="204.7" cy="194.0" r="1.0" fill="rgb(201,201,201)"/><ellipse cx="207.4" cy="193.9" rx="1.6" ry="0.9" fill="rgb(216,216,216)"/><ellipse cx="211.7" cy="192.7" rx="1.3" ry="0.7" fill="rgb(250,250,250)"/><circle cx="216.5" cy="193.7" r="1.1" fill="rgb(229,229,229)"/><circle cx="226.5" cy="194.7" r="1.1" fill="rgb(204,204,204)"/><circle cx="228.3" cy="193.0" r="0.9" fill="rgb(203,203,203)"/><circle cx="232.2" cy="192.8" r="1.1" fill="rgb(251,251,251)"/><circle cx="196.6" cy="196.2" r="1.2" fill="rgb(237,237,237)"/><ellipse cx="200.2" cy="196.1" rx="1.5" ry="0.8" fill="rgb(209,209,209)"/><circle cx="203.6" cy="196.0" r="1.1" fill="rgb(178,178,178)"/><circle cx="205.4" cy="197.8" r="1.2" fill="rgb(191,191,191)"/><circle cx="212.1" cy="197.4" r="1.1" fill="rgb(195,195,195)"/><ellipse cx="216.7" cy="196.9" rx="1.8" ry="1.0" fill="rgb(227,227,227)"/><ellipse cx="218.9" cy="197.6" rx="1.4" ry="0.8" fill="rgb(198,198,198)"/><ellipse cx="221.2" cy="195.9" rx="1.3" ry="0.7" fill="rgb(212,212,212)"/><circle cx="226.3" cy="196.4" r="0.9" fill="rgb(243,243,243)"/><circle cx="228.9" cy="197.0" r="0.9" fill="rgb(254,254,254)"/><ellipse cx="232.1" cy="198.0" rx="1.7" ry="0.9" fill="rgb(252,252,252)"/><circle cx="196.5" cy="201.7" r="0.9" fill="rgb(194,194,194)"/><circle cx="199.2" cy="200.4" r="1.2" fill="rgb(179,179,179)"/><circle cx="205.2" cy="202.1" r="1.2" fill="rgb(181,181,181)"/><circle cx="208.7" cy="200.5" r="0.9" fill="rgb(221,221,221)"/><circle cx="211.4" cy="200.1" r="1.2" fill="rgb(228,228,228)"/><ellipse cx="216.9" cy="201.4" rx="1.7" ry="0.9" fill="rgb(232,232,232)"/><ellipse cx="220.9" cy="200.8" rx="1.6" ry="0.9" fill="rgb(210,210,210)"/><ellipse cx="222.6" cy="201.6" rx="1.4" ry="0.7" fill="rgb(235,235,235)"/><circle cx="226.1" cy="201.1" r="0.9" fill="rgb(185,185,185)"/><circle cx="229.3" cy="199.0" r="0.9" fill="rgb(254,254,254)"/><circle cx="233.6" cy="199.6" r="1.1" fill="rgb(200,200,200)"/><ellipse cx="197.5" cy="203.6" rx="1.8" ry="1.0" fill="rgb(179,179,179)"/><circle cx="200.4" cy="202.4" r="1.1" fill="rgb(234,234,234)"/><circle cx="211.9" cy="204.8" r="1.1" fill="rgb(248,248,248)"/><ellipse cx="216.3" cy="204.2" rx="1.6" ry="0.9" fill="rgb(254,254,254)"/><circle cx="223.8" cy="204.5" r="0.9" fill="rgb(206,206,206)"/><circle cx="224.9" cy="204.1" r="1.0" fill="rgb(232,232,232)"/><circle cx="232.6" cy="204.8" r="0.9" fill="rgb(212,212,212)"/><circle cx="196.2" cy="207.7" r="1.1" fill="rgb(224,224,224)"/><circle cx="201.6" cy="207.5" r="0.9" fill="rgb(174,174,174)"/><circle cx="202.3" cy="205.7" r="1.0" fill="rgb(175,175,175)"/><circle cx="205.8" cy="205.6" r="1.2" fill="rgb(222,222,222)"/><circle cx="211.2" cy="206.1" r="0.9" fill="rgb(192,192,192)"/><circle cx="213.8" cy="206.4" r="1.2" fill="rgb(255,255,255)"/><circle cx="215.5" cy="207.8" r="0.9" fill="rgb(174,174,174)"/><ellipse cx="220.4" cy="206.8" rx="1.5" ry="0.8" fill="rgb(199,199,199)"/><circle cx="222.3" cy="206.2" r="0.9" fill="rgb(205,205,205)"/><ellipse cx="226.4" cy="208.0" rx="1.5" ry="0.8" fill="rgb(173,173,173)"/><circle cx="233.7" cy="206.1" r="0.9" fill="rgb(225,225,225)"/><ellipse cx="196.8" cy="211.6" rx="1.3" ry="0.7" fill="rgb(243,243,243)"/><ellipse cx="200.0" cy="210.2" rx="1.8" ry="0.9" fill="rgb(255,255,255)"/><circle cx="204.8" cy="211.4" r="1.1" fill="rgb(254,254,254)"/><circle cx="206.0" cy="209.5" r="1.0" fill="rgb(221,221,221)"/><circle cx="208.8" cy="210.6" r="1.0" fill="rgb(192,192,192)"/><circle cx="213.2" cy="208.5" r="1.0" fill="rgb(225,225,225)"/><circle cx="215.6" cy="209.9" r="1.1" fill="rgb(235,235,235)"/><circle cx="221.5" cy="208.8" r="1.1" fill="rgb(251,251,251)"/><ellipse cx="227.2" cy="209.3" rx="1.5" ry="0.8" fill="rgb(195,195,195)"/><circle cx="230.5" cy="210.5" r="1.2" fill="rgb(228,228,228)"/><ellipse cx="231.2" cy="210.7" rx="1.6" ry="0.8" fill="rgb(201,201,201)"/><ellipse cx="198.3" cy="214.5" rx="1.8" ry="1.0" fill="rgb(224,224,224)"/><circle cx="200.8" cy="213.2" r="1.1" fill="rgb(185,185,185)"/><circle cx="203.9" cy="214.9" r="1.1" fill="rgb(226,226,226)"/><circle cx="206.6" cy="214.4" r="1.1" fill="rgb(190,190,190)"/><circle cx="209.0" cy="212.5" r="1.1" fill="rgb(236,236,236)"/><circle cx="212.8" cy="214.0" r="0.9" fill="rgb(212,212,212)"/><ellipse cx="215.0" cy="212.4" rx="1.7" ry="0.9" fill="rgb(197,197,197)"/><circle cx="219.5" cy="213.0" r="0.9" fill="rgb(223,223,223)"/><circle cx="224.0" cy="211.8" r="1.2" fill="rgb(243,243,243)"/><circle cx="225.3" cy="214.1" r="1.2" fill="rgb(223,223,223)"/><circle cx="230.0" cy="214.6" r="1.0" fill="rgb(204,204,204)"/><circle cx="231.7" cy="213.9" r="1.0" fill="rgb(191,191,191)"/><circle cx="204.7" cy="216.8" r="1.1" fill="rgb(180,180,180)"/><circle cx="206.5" cy="215.1" r="1.0" fill="rgb(197,197,197)"/><circle cx="211.0" cy="215.8" r="1.2" fill="rgb(223,223,223)"/><ellipse cx="211.5" cy="216.6" rx="1.9" ry="1.0" fill="rgb(214,214,214)"/><ellipse cx="217.7" cy="215.0" rx="1.3" ry="0.7" fill="rgb(201,201,201)"/><circle cx="218.3" cy="215.3" r="1.1" fill="rgb(242,242,242)"/><circle cx="221.8" cy="216.1" r="1.1" fill="rgb(184,184,184)"/><circle cx="225.2" cy="216.8" r="1.2" fill="rgb(243,243,243)"/><ellipse cx="232.9" cy="215.1" rx="1.7" ry="0.9" fill="rgb(250,250,250)"/><circle cx="196.4" cy="220.3" r="1.2" fill="rgb(242,242,242)"/><ellipse cx="200.0" cy="219.3" rx="1.6" ry="0.8" fill="rgb(213,213,213)"/><circle cx="203.4" cy="219.5" r="1.0" fill="rgb(228,228,228)"/><circle cx="207.3" cy="221.2" r="1.0" fill="rgb(238,238,238)"/><circle cx="210.8" cy="220.0" r="1.0" fill="rgb(201,201,201)"/><circle cx="214.2" cy="218.9" r="1.0" fill="rgb(248,248,248)"/><circle cx="216.2" cy="219.1" r="1.0" fill="rgb(215,215,215)"/><circle cx="220.6" cy="220.3" r="1.0" fill="rgb(171,171,171)"/><circle cx="221.8" cy="219.4" r="1.1" fill="rgb(200,200,200)"/><circle cx="225.8" cy="220.6" r="0.9" fill="rgb(198,198,198)"/><circle cx="229.5" cy="219.3" r="1.1" fill="rgb(214,214,214)"/><ellipse cx="231.7" cy="220.3" rx="1.4" ry="0.8" fill="rgb(202,202,202)"/><ellipse cx="196.4" cy="223.7" rx="1.8" ry="1.0" fill="rgb(193,193,193)"/><circle cx="199.5" cy="223.2" r="1.2" fill="rgb(246,246,246)"/><circle cx="202.4" cy="222.0" r="0.9" fill="rgb(171,171,171)"/><circle cx="205.1" cy="221.5" r="1.0" fill="rgb(186,186,186)"/><circle cx="208.5" cy="221.3" r="1.0" fill="rgb(231,231,231)"/><circle cx="211.6" cy="224.3" r="1.0" fill="rgb(178,178,178)"/><circle cx="216.6" cy="221.5" r="0.9" fill="rgb(242,242,242)"/><circle cx="218.6" cy="223.1" r="1.0" fill="rgb(246,246,246)"/><circle cx="222.7" cy="222.7" r="1.0" fill="rgb(245,245,245)"/><circle cx="226.2" cy="223.3" r="1.1" fill="rgb(196,196,196)"/><ellipse cx="227.7" cy="222.1" rx="1.6" ry="0.9" fill="rgb(190,190,190)"/><circle cx="232.5" cy="222.2" r="0.9" fill="rgb(206,206,206)"/><circle cx="197.6" cy="227.5" r="1.2" fill="rgb(250,250,250)"/><circle cx="199.2" cy="224.9" r="0.9" fill="rgb(189,189,189)"/><circle cx="202.0" cy="225.0" r="1.0" fill="rgb(242,242,242)"/><circle cx="206.5" cy="225.5" r="1.0" fill="rgb(204,204,204)"/><circle cx="208.5" cy="224.6" r="1.0" fill="rgb(211,211,211)"/><circle cx="212.1" cy="226.7" r="1.2" fill="rgb(245,245,245)"/><circle cx="218.7" cy="224.6" r="1.2" fill="rgb(230,230,230)"/><circle cx="221.9" cy="227.7" r="1.0" fill="rgb(232,232,232)"/><circle cx="225.5" cy="225.5" r="0.9" fill="rgb(190,190,190)"/><ellipse cx="228.3" cy="227.5" rx="1.8" ry="0.9" fill="rgb(240,240,240)"/><circle cx="231.4" cy="224.9" r="1.2" fill="rgb(235,235,235)"/></g></g>
<rect x="195.9" y="189.8" width="36.7" height="35" fill="none" stroke="#222" stroke-width="1"/>
<rect x="235.3" y="189.3" width="37.1" height="36" fill="#383838"/>
<rect x="235.3" y="189.3" width="37.1" height="36" fill="#555" filter="url(#nB2)" opacity="0.35"/>
<g clip-path="url(#cB2)"><g filter="url(#bl)"><circle cx="238.3" cy="190.9" r="1.0" fill="rgb(236,236,236)"/><circle cx="240.3" cy="189.5" r="1.1" fill="rgb(206,206,206)"/><circle cx="244.7" cy="189.7" r="1.5" fill="rgb(220,220,220)"/><circle cx="245.8" cy="190.7" r="1.1" fill="rgb(204,204,204)"/><circle cx="252.2" cy="191.0" r="1.4" fill="rgb(255,255,255)"/><circle cx="254.5" cy="191.0" r="1.3" fill="rgb(208,208,208)"/><circle cx="262.9" cy="192.3" r="1.2" fill="rgb(243,243,243)"/><circle cx="264.2" cy="189.3" r="1.4" fill="rgb(252,252,252)"/><circle cx="268.5" cy="190.5" r="1.4" fill="rgb(238,238,238)"/><circle cx="271.0" cy="191.7" r="1.3" fill="rgb(219,219,219)"/><circle cx="236.4" cy="194.5" r="1.5" fill="rgb(238,238,238)"/><ellipse cx="241.7" cy="196.2" rx="1.9" ry="1.0" fill="rgb(194,194,194)"/><ellipse cx="246.2" cy="195.8" rx="1.6" ry="0.8" fill="rgb(248,248,248)"/><circle cx="252.3" cy="196.2" r="1.0" fill="rgb(223,223,223)"/><circle cx="255.1" cy="195.8" r="1.5" fill="rgb(238,238,238)"/><ellipse cx="259.4" cy="194.5" rx="1.9" ry="1.0" fill="rgb(198,198,198)"/><circle cx="260.8" cy="193.6" r="1.0" fill="rgb(202,202,202)"/><ellipse cx="263.7" cy="193.4" rx="1.7" ry="0.9" fill="rgb(193,193,193)"/><circle cx="267.8" cy="194.1" r="1.1" fill="rgb(242,242,242)"/><circle cx="270.9" cy="193.1" r="1.5" fill="rgb(220,220,220)"/><circle cx="236.1" cy="198.5" r="1.3" fill="rgb(191,191,191)"/><circle cx="239.8" cy="198.2" r="1.0" fill="rgb(234,234,234)"/><ellipse cx="245.7" cy="198.7" rx="1.9" ry="1.0" fill="rgb(228,228,228)"/><circle cx="247.5" cy="197.1" r="1.3" fill="rgb(227,227,227)"/><circle cx="252.7" cy="198.6" r="1.2" fill="rgb(196,196,196)"/><circle cx="255.7" cy="199.5" r="1.4" fill="rgb(219,219,219)"/><circle cx="258.5" cy="198.5" r="1.4" fill="rgb(207,207,207)"/><ellipse cx="264.4" cy="197.8" rx="2.0" ry="1.1" fill="rgb(206,206,206)"/><circle cx="269.4" cy="196.9" r="1.1" fill="rgb(236,236,236)"/><circle cx="236.2" cy="202.7" r="1.3" fill="rgb(227,227,227)"/><circle cx="239.2" cy="203.2" r="1.1" fill="rgb(218,218,218)"/><ellipse cx="245.7" cy="203.2" rx="2.2" ry="1.2" fill="rgb(236,236,236)"/><circle cx="246.7" cy="200.2" r="1.2" fill="rgb(223,223,223)"/><circle cx="252.6" cy="200.2" r="1.1" fill="rgb(193,193,193)"/><circle cx="258.4" cy="202.1" r="1.3" fill="rgb(249,249,249)"/><circle cx="261.2" cy="200.3" r="1.5" fill="rgb(228,228,228)"/><circle cx="264.1" cy="201.7" r="1.2" fill="rgb(237,237,237)"/><circle cx="270.1" cy="201.3" r="1.4" fill="rgb(209,209,209)"/><ellipse cx="273.2" cy="202.0" rx="2.3" ry="1.2" fill="rgb(225,225,225)"/><circle cx="236.9" cy="206.6" r="1.5" fill="rgb(202,202,202)"/><ellipse cx="242.0" cy="205.6" rx="1.5" ry="0.8" fill="rgb(225,225,225)"/><ellipse cx="245.3" cy="204.9" rx="2.0" ry="1.1" fill="rgb(192,192,192)"/><circle cx="249.3" cy="206.1" r="1.1" fill="rgb(216,216,216)"/><circle cx="250.1" cy="206.0" r="1.4" fill="rgb(190,190,190)"/><ellipse cx="262.6" cy="203.7" rx="2.2" ry="1.2" fill="rgb(206,206,206)"/><ellipse cx="264.1" cy="204.4" rx="1.6" ry="0.9" fill="rgb(196,196,196)"/><circle cx="267.2" cy="203.5" r="1.2" fill="rgb(236,236,236)"/><circle cx="272.1" cy="206.6" r="1.0" fill="rgb(228,228,228)"/><circle cx="240.5" cy="208.2" r="1.4" fill="rgb(252,252,252)"/><circle cx="245.4" cy="207.9" r="1.1" fill="rgb(206,206,206)"/><circle cx="247.7" cy="207.9" r="1.5" fill="rgb(227,227,227)"/><circle cx="249.6" cy="209.3" r="1.5" fill="rgb(217,217,217)"/><circle cx="259.2" cy="208.2" r="1.4" fill="rgb(230,230,230)"/><ellipse cx="261.1" cy="207.3" rx="2.3" ry="1.2" fill="rgb(198,198,198)"/><circle cx="264.8" cy="209.4" r="1.2" fill="rgb(206,206,206)"/><circle cx="268.8" cy="208.0" r="1.1" fill="rgb(235,235,235)"/><circle cx="238.5" cy="210.5" r="1.2" fill="rgb(229,229,229)"/><circle cx="239.5" cy="212.6" r="1.1" fill="rgb(203,203,203)"/><circle cx="242.7" cy="211.3" r="1.1" fill="rgb(244,244,244)"/><ellipse cx="251.4" cy="212.5" rx="1.5" ry="0.8" fill="rgb(224,224,224)"/><circle cx="255.5" cy="213.5" r="1.2" fill="rgb(213,213,213)"/><ellipse cx="257.7" cy="210.8" rx="2.0" ry="1.1" fill="rgb(193,193,193)"/><circle cx="261.1" cy="211.9" r="1.1" fill="rgb(229,229,229)"/><circle cx="265.3" cy="210.6" r="1.0" fill="rgb(210,210,210)"/><circle cx="267.1" cy="211.9" r="1.2" fill="rgb(246,246,246)"/><circle cx="272.1" cy="211.5" r="1.1" fill="rgb(252,252,252)"/><circle cx="236.1" cy="217.2" r="1.0" fill="rgb(216,216,216)"/><circle cx="239.3" cy="214.7" r="1.2" fill="rgb(190,190,190)"/><ellipse cx="242.8" cy="215.7" rx="1.7" ry="0.9" fill="rgb(235,235,235)"/><circle cx="249.4" cy="217.0" r="1.5" fill="rgb(244,244,244)"/><ellipse cx="254.3" cy="214.2" rx="1.5" ry="0.8" fill="rgb(231,231,231)"/><ellipse cx="262.2" cy="215.1" rx="1.9" ry="1.0" fill="rgb(203,203,203)"/><ellipse cx="265.1" cy="215.2" rx="1.8" ry="0.9" fill="rgb(233,233,233)"/><circle cx="267.1" cy="216.0" r="1.3" fill="rgb(214,214,214)"/><ellipse cx="272.8" cy="216.7" rx="2.2" ry="1.2" fill="rgb(220,220,220)"/><ellipse cx="235.9" cy="217.8" rx="2.1" ry="1.1" fill="rgb(199,199,199)"/><circle cx="240.5" cy="219.9" r="1.4" fill="rgb(247,247,247)"/><ellipse cx="249.3" cy="218.4" rx="2.3" ry="1.2" fill="rgb(230,230,230)"/><circle cx="250.8" cy="218.4" r="1.2" fill="rgb(197,197,197)"/><ellipse cx="254.4" cy="217.4" rx="1.8" ry="1.0" fill="rgb(226,226,226)"/><circle cx="265.1" cy="218.9" r="1.3" fill="rgb(195,195,195)"/><circle cx="269.1" cy="218.4" r="1.3" fill="rgb(209,209,209)"/><circle cx="273.1" cy="220.2" r="1.5" fill="rgb(200,200,200)"/><circle cx="236.2" cy="222.3" r="1.2" fill="rgb(210,210,210)"/><ellipse cx="245.0" cy="223.2" rx="1.5" ry="0.8" fill="rgb(232,232,232)"/><circle cx="248.2" cy="221.8" r="1.4" fill="rgb(209,209,209)"/><ellipse cx="249.8" cy="222.0" rx="2.3" ry="1.2" fill="rgb(240,240,240)"/><circle cx="253.1" cy="222.8" r="1.4" fill="rgb(232,232,232)"/><circle cx="259.2" cy="223.4" r="1.4" fill="rgb(201,201,201)"/><circle cx="261.1" cy="222.1" r="1.1" fill="rgb(217,217,217)"/><circle cx="264.0" cy="224.3" r="1.1" fill="rgb(227,227,227)"/><circle cx="269.5" cy="223.7" r="1.5" fill="rgb(194,194,194)"/><circle cx="237.4" cy="224.8" r="1.1" fill="rgb(211,211,211)"/><circle cx="240.1" cy="226.8" r="1.5" fill="rgb(226,226,226)"/><circle cx="243.1" cy="225.1" r="1.5" fill="rgb(250,250,250)"/><circle cx="248.2" cy="226.3" r="1.2" fill="rgb(226,226,226)"/><circle cx="250.8" cy="224.9" r="1.1" fill="rgb(207,207,207)"/><circle cx="254.5" cy="225.6" r="1.5" fill="rgb(205,205,205)"/><ellipse cx="257.3" cy="227.5" rx="1.6" ry="0.9" fill="rgb(245,245,245)"/><circle cx="266.4" cy="227.6" r="1.2" fill="rgb(240,240,240)"/><circle cx="270.3" cy="225.6" r="1.0" fill="rgb(202,202,202)"/><circle cx="273.1" cy="224.8" r="1.2" fill="rgb(250,250,250)"/></g></g>
<rect x="235.8" y="189.8" width="36.1" height="35" fill="none" stroke="#222" stroke-width="1"/>
<rect x="274.1" y="189.3" width="37.9" height="36" fill="#4a4a4a"/>
<rect x="274.1" y="189.3" width="37.9" height="36" fill="#555" filter="url(#nB3)" opacity="0.35"/>
<g clip-path="url(#cB3)"><g filter="url(#bl)"><ellipse cx="276.3" cy="190.7" rx="1.1" ry="0.6" fill="rgb(160,160,160)"/><ellipse cx="277.7" cy="192.2" rx="1.5" ry="0.8" fill="rgb(204,204,204)"/><circle cx="281.2" cy="189.4" r="0.9" fill="rgb(229,229,229)"/><circle cx="286.2" cy="191.1" r="0.8" fill="rgb(215,215,215)"/><circle cx="287.4" cy="189.3" r="0.9" fill="rgb(223,223,223)"/><circle cx="289.9" cy="192.3" r="0.8" fill="rgb(217,217,217)"/><circle cx="294.3" cy="189.4" r="1.1" fill="rgb(155,155,155)"/><circle cx="299.0" cy="191.7" r="0.9" fill="rgb(234,234,234)"/><circle cx="304.3" cy="190.3" r="0.8" fill="rgb(219,219,219)"/><circle cx="307.7" cy="191.4" r="1.2" fill="rgb(211,211,211)"/><ellipse cx="308.4" cy="191.7" rx="1.4" ry="0.8" fill="rgb(187,187,187)"/><circle cx="314.0" cy="190.3" r="0.9" fill="rgb(200,200,200)"/><circle cx="274.9" cy="194.7" r="0.8" fill="rgb(195,195,195)"/><circle cx="279.2" cy="193.2" r="1.1" fill="rgb(205,205,205)"/><circle cx="283.1" cy="193.6" r="1.2" fill="rgb(213,213,213)"/><ellipse cx="285.9" cy="193.2" rx="1.2" ry="0.6" fill="rgb(204,204,204)"/><circle cx="289.0" cy="194.1" r="0.9" fill="rgb(160,160,160)"/><circle cx="291.0" cy="194.6" r="0.8" fill="rgb(206,206,206)"/><circle cx="295.4" cy="193.5" r="1.2" fill="rgb(185,185,185)"/><circle cx="296.0" cy="194.5" r="0.9" fill="rgb(215,215,215)"/><ellipse cx="301.9" cy="192.8" rx="1.5" ry="0.8" fill="rgb(206,206,206)"/><ellipse cx="304.4" cy="193.5" rx="1.4" ry="0.7" fill="rgb(222,222,222)"/><circle cx="306.5" cy="193.5" r="0.9" fill="rgb(159,159,159)"/><ellipse cx="309.4" cy="194.4" rx="1.3" ry="0.7" fill="rgb(164,164,164)"/><circle cx="312.9" cy="195.2" r="0.8" fill="rgb(183,183,183)"/><ellipse cx="276.0" cy="197.7" rx="1.8" ry="1.0" fill="rgb(175,175,175)"/><circle cx="283.1" cy="196.9" r="0.8" fill="rgb(190,190,190)"/><circle cx="285.1" cy="196.4" r="0.9" fill="rgb(170,170,170)"/><circle cx="292.1" cy="197.1" r="0.8" fill="rgb(175,175,175)"/><circle cx="294.2" cy="196.6" r="1.0" fill="rgb(209,209,209)"/><circle cx="297.7" cy="195.8" r="0.9" fill="rgb(211,211,211)"/><ellipse cx="301.5" cy="195.7" rx="1.8" ry="1.0" fill="rgb(232,232,232)"/><circle cx="303.6" cy="195.9" r="1.1" fill="rgb(220,220,220)"/><circle cx="308.1" cy="196.8" r="1.2" fill="rgb(157,157,157)"/><circle cx="309.1" cy="196.0" r="1.2" fill="rgb(178,178,178)"/><circle cx="278.0" cy="200.6" r="1.0" fill="rgb(166,166,166)"/><ellipse cx="280.6" cy="200.6" rx="1.5" ry="0.8" fill="rgb(224,224,224)"/><ellipse cx="285.6" cy="200.5" rx="1.7" ry="0.9" fill="rgb(222,222,222)"/><circle cx="292.5" cy="201.0" r="0.9" fill="rgb(176,176,176)"/><circle cx="294.7" cy="200.1" r="1.0" fill="rgb(187,187,187)"/><ellipse cx="296.6" cy="201.1" rx="1.4" ry="0.7" fill="rgb(208,208,208)"/><ellipse cx="300.3" cy="200.1" rx="1.3" ry="0.7" fill="rgb(227,227,227)"/><circle cx="308.2" cy="199.7" r="0.9" fill="rgb(197,197,197)"/><ellipse cx="308.9" cy="199.0" rx="1.4" ry="0.8" fill="rgb(168,168,168)"/><circle cx="312.5" cy="200.5" r="0.9" fill="rgb(170,170,170)"/><circle cx="277.8" cy="202.2" r="1.2" fill="rgb(209,209,209)"/><ellipse cx="280.4" cy="204.6" rx="1.5" ry="0.8" fill="rgb(180,180,180)"/><circle cx="283.6" cy="203.2" r="1.1" fill="rgb(233,233,233)"/><circle cx="286.5" cy="202.0" r="0.8" fill="rgb(183,183,183)"/><circle cx="290.7" cy="202.9" r="1.0" fill="rgb(174,174,174)"/><circle cx="293.9" cy="203.1" r="1.0" fill="rgb(229,229,229)"/><circle cx="298.8" cy="202.9" r="1.1" fill="rgb(193,193,193)"/><ellipse cx="299.3" cy="203.6" rx="1.4" ry="0.7" fill="rgb(155,155,155)"/><circle cx="303.0" cy="203.2" r="1.0" fill="rgb(227,227,227)"/><circle cx="308.0" cy="202.7" r="0.9" fill="rgb(228,228,228)"/><circle cx="309.2" cy="204.3" r="1.0" fill="rgb(222,222,222)"/><circle cx="312.4" cy="203.8" r="1.2" fill="rgb(224,224,224)"/><circle cx="282.2" cy="205.6" r="1.0" fill="rgb(224,224,224)"/><circle cx="285.2" cy="205.3" r="1.0" fill="rgb(229,229,229)"/><ellipse cx="289.0" cy="205.6" rx="1.5" ry="0.8" fill="rgb(164,164,164)"/><circle cx="290.9" cy="206.1" r="0.8" fill="rgb(214,214,214)"/><circle cx="299.1" cy="205.2" r="0.8" fill="rgb(191,191,191)"/><circle cx="303.2" cy="207.8" r="1.0" fill="rgb(218,218,218)"/><circle cx="307.5" cy="207.0" r="1.0" fill="rgb(183,183,183)"/><circle cx="309.0" cy="206.5" r="0.9" fill="rgb(188,188,188)"/><circle cx="313.4" cy="206.3" r="1.0" fill="rgb(221,221,221)"/><circle cx="274.9" cy="208.3" r="1.1" fill="rgb(198,198,198)"/><circle cx="278.3" cy="210.3" r="0.8" fill="rgb(155,155,155)"/><ellipse cx="281.4" cy="209.3" rx="1.3" ry="0.7" fill="rgb(211,211,211)"/><circle cx="284.2" cy="209.6" r="0.9" fill="rgb(163,163,163)"/><ellipse cx="287.3" cy="210.0" rx="1.5" ry="0.8" fill="rgb(231,231,231)"/><ellipse cx="290.6" cy="209.4" rx="1.6" ry="0.8" fill="rgb(167,167,167)"/><circle cx="295.6" cy="209.2" r="1.2" fill="rgb(210,210,210)"/><circle cx="298.8" cy="208.9" r="1.0" fill="rgb(161,161,161)"/><circle cx="301.2" cy="210.5" r="0.8" fill="rgb(172,172,172)"/><ellipse cx="304.9" cy="208.0" rx="1.7" ry="0.9" fill="rgb(213,213,213)"/><circle cx="307.8" cy="208.8" r="0.8" fill="rgb(188,188,188)"/><circle cx="311.2" cy="208.8" r="1.2" fill="rgb(219,219,219)"/><ellipse cx="275.7" cy="211.8" rx="1.7" ry="0.9" fill="rgb(192,192,192)"/><circle cx="278.0" cy="211.6" r="1.1" fill="rgb(187,187,187)"/><circle cx="280.8" cy="213.7" r="1.2" fill="rgb(204,204,204)"/><circle cx="285.5" cy="211.6" r="0.8" fill="rgb(191,191,191)"/><circle cx="287.7" cy="212.4" r="0.9" fill="rgb(192,192,192)"/><circle cx="289.6" cy="213.0" r="1.1" fill="rgb(157,157,157)"/><circle cx="293.2" cy="213.1" r="1.2" fill="rgb(189,189,189)"/><circle cx="298.7" cy="212.1" r="0.8" fill="rgb(167,167,167)"/><circle cx="302.0" cy="212.2" r="1.1" fill="rgb(210,210,210)"/><circle cx="304.6" cy="213.4" r="1.1" fill="rgb(226,226,226)"/><ellipse cx="306.5" cy="213.2" rx="1.2" ry="0.6" fill="rgb(222,222,222)"/><circle cx="311.0" cy="211.6" r="1.0" fill="rgb(171,171,171)"/><circle cx="311.7" cy="211.6" r="1.0" fill="rgb(161,161,161)"/><ellipse cx="274.3" cy="214.5" rx="1.4" ry="0.7" fill="rgb(222,222,222)"/><circle cx="279.7" cy="216.3" r="0.9" fill="rgb(150,150,150)"/><circle cx="280.4" cy="215.2" r="0.8" fill="rgb(157,157,157)"/><circle cx="286.3" cy="214.2" r="0.9" fill="rgb(167,167,167)"/><circle cx="290.9" cy="217.2" r="0.9" fill="rgb(198,198,198)"/><ellipse cx="294.8" cy="215.8" rx="1.6" ry="0.8" fill="rgb(194,194,194)"/><circle cx="299.3" cy="217.1" r="1.1" fill="rgb(152,152,152)"/><ellipse cx="304.2" cy="215.4" rx="1.4" ry="0.7" fill="rgb(179,179,179)"/><ellipse cx="306.0" cy="217.0" rx="1.6" ry="0.9" fill="rgb(164,164,164)"/><ellipse cx="310.1" cy="217.0" rx="1.7" ry="0.9" fill="rgb(180,180,180)"/><ellipse cx="311.4" cy="216.0" rx="1.6" ry="0.9" fill="rgb(156,156,156)"/><ellipse cx="275.5" cy="218.9" rx="1.6" ry="0.9" fill="rgb(157,157,157)"/><ellipse cx="283.1" cy="219.0" rx="1.5" ry="0.8" fill="rgb(191,191,191)"/><circle cx="290.9" cy="218.1" r="1.0" fill="rgb(225,225,225)"/><circle cx="297.1" cy="218.7" r="1.2" fill="rgb(232,232,232)"/><ellipse cx="299.9" cy="218.5" rx="1.2" ry="0.7" fill="rgb(198,198,198)"/><circle cx="302.7" cy="217.9" r="1.1" fill="rgb(168,168,168)"/><circle cx="311.2" cy="218.9" r="0.8" fill="rgb(181,181,181)"/><circle cx="311.5" cy="218.6" r="0.9" fill="rgb(218,218,218)"/><ellipse cx="274.9" cy="222.4" rx="1.5" ry="0.8" fill="rgb(159,159,159)"/><circle cx="279.4" cy="222.0" r="1.0" fill="rgb(192,192,192)"/><circle cx="284.0" cy="222.6" r="1.1" fill="rgb(211,211,211)"/><circle cx="288.7" cy="221.5" r="0.9" fill="rgb(191,191,191)"/><circle cx="291.3" cy="221.4" r="0.9" fill="rgb(215,215,215)"/><circle cx="295.2" cy="222.5" r="1.1" fill="rgb(190,190,190)"/><ellipse cx="297.1" cy="222.0" rx="1.3" ry="0.7" fill="rgb(168,168,168)"/><circle cx="300.7" cy="222.5" r="0.9" fill="rgb(175,175,175)"/><circle cx="304.6" cy="221.8" r="1.0" fill="rgb(193,193,193)"/><circle cx="308.1" cy="222.3" r="1.0" fill="rgb(171,171,171)"/><circle cx="308.6" cy="222.0" r="0.8" fill="rgb(219,219,219)"/><circle cx="276.7" cy="223.6" r="1.1" fill="rgb(156,156,156)"/><ellipse cx="279.8" cy="224.1" rx="1.6" ry="0.9" fill="rgb(151,151,151)"/><circle cx="280.5" cy="225.4" r="1.2" fill="rgb(211,211,211)"/><circle cx="285.0" cy="224.7" r="0.8" fill="rgb(185,185,185)"/><ellipse cx="288.1" cy="225.6" rx="1.4" ry="0.8" fill="rgb(172,172,172)"/><circle cx="290.1" cy="224.0" r="1.0" fill="rgb(195,195,195)"/><circle cx="293.9" cy="224.7" r="1.0" fill="rgb(178,178,178)"/><ellipse cx="296.0" cy="226.5" rx="1.6" ry="0.8" fill="rgb(154,154,154)"/><ellipse cx="300.6" cy="223.6" rx="1.1" ry="0.6" fill="rgb(171,171,171)"/><circle cx="304.0" cy="224.4" r="1.2" fill="rgb(162,162,162)"/><ellipse cx="311.0" cy="225.5" rx="1.5" ry="0.8" fill="rgb(184,184,184)"/><ellipse cx="314.2" cy="226.2" rx="1.5" ry="0.8" fill="rgb(154,154,154)"/></g></g>
<rect x="274.6" y="189.8" width="36.9" height="35" fill="none" stroke="#222" stroke-width="1"/>
<path d="M51.50,218.2 V292.40 H171.5" fill="none" stroke="#000" stroke-width="1"/>
<path d="M51.50,280.03 h2" stroke="#000" stroke-width="0.9"/>
<path d="M51.50,267.66 h2" stroke="#000" stroke-width="0.9"/>
<path d="M51.50,255.29 h2" stroke="#000" stroke-width="0.9"/>
<path d="M51.50,242.92 h2" stroke="#000" stroke-width="0.9"/>
<path d="M51.50,230.55 h2" stroke="#000" stroke-width="0.9"/>
<path d="M51.50,218.18 h2" stroke="#000" stroke-width="0.9"/>
<text x="48.30" y="296.00" font-size="10" text-anchor="end" font-weight="normal" fill="#000" >0</text>
<text x="48.30" y="271.26" font-size="10" text-anchor="end" font-weight="normal" fill="#000" >1</text>
<text x="48.30" y="246.52" font-size="10" text-anchor="end" font-weight="normal" fill="#000" >2</text>
<text x="48.30" y="221.78" font-size="10" text-anchor="end" font-weight="normal" fill="#000" >3</text>
<path d="M72.30,241.50 V235.60 M70.50,235.60 H74.10" stroke="#000" stroke-width="0.80" fill="none"/>
<rect x="63.70" y="241.50" width="17.20" height="50.90" fill="#848484" stroke="#000" stroke-width="0.9"/>
<path d="M112.70,257.70 V255.00 M110.90,255.00 H114.50" stroke="#000" stroke-width="0.80" fill="none"/>
<rect x="104.10" y="257.70" width="17.20" height="34.70" fill="#848484" stroke="#000" stroke-width="0.9"/>
<path d="M152.45,238.30 V228.10 M150.65,228.10 H154.25" stroke="#000" stroke-width="0.80" fill="none"/>
<rect x="143.70" y="238.30" width="17.50" height="54.10" fill="#848484" stroke="#000" stroke-width="0.9"/>
<text x="71.60" y="307.30" font-size="10" text-anchor="middle" font-weight="normal" fill="#000" >Control</text>
<text x="113.20" y="307.30" font-size="10" text-anchor="middle" font-weight="normal" fill="#000" >Plasma</text>
<text x="153.40" y="307.30" font-size="10" text-anchor="middle" font-weight="normal" fill="#000" >vWF</text>
<path d="M193.70,218.2 V292.10 H312" fill="none" stroke="#000" stroke-width="1"/>
<path d="M193.70,277.40 h2" stroke="#000" stroke-width="0.9"/>
<path d="M193.70,262.70 h2" stroke="#000" stroke-width="0.9"/>
<path d="M193.70,248.00 h2" stroke="#000" stroke-width="0.9"/>
<path d="M193.70,233.30 h2" stroke="#000" stroke-width="0.9"/>
<path d="M193.70,218.60 h2" stroke="#000" stroke-width="0.9"/>
<path d="M213.15,274.60 V268.10 M211.35,268.10 H214.95" stroke="#000" stroke-width="0.80" fill="none"/>
<rect x="205.00" y="274.60" width="16.30" height="17.50" fill="#848484" stroke="#000" stroke-width="0.9"/>
<path d="M253.65,256.50 V252.50 M251.85,252.50 H255.45" stroke="#000" stroke-width="0.80" fill="none"/>
<rect x="245.60" y="256.50" width="16.10" height="35.60" fill="#848484" stroke="#000" stroke-width="0.9"/>
<path d="M293.25,253.30 V248.50 M291.45,248.50 H295.05" stroke="#000" stroke-width="0.80" fill="none"/>
<rect x="285.20" y="253.30" width="16.10" height="38.80" fill="#848484" stroke="#000" stroke-width="0.9"/>
<text x="213.00" y="307.50" font-size="10" text-anchor="middle" font-weight="normal" fill="#000" >Control</text>
<text x="254.50" y="307.50" font-size="10" text-anchor="middle" font-weight="normal" fill="#000" >Plasma</text>
<text x="293.80" y="307.50" font-size="10" text-anchor="middle" font-weight="normal" fill="#000" >vWF</text>
<path d="M212.8,231.5 H201" stroke="#000" stroke-width="1.3"/><path d="M197.5,231.5 L203,229 L203,234 Z" fill="#000"/>
<text x="215.80" y="236.60" font-size="9.6" text-anchor="start" font-weight="normal" fill="#000" >Flow</text>
<path d="M275.5,231 H282.8" stroke="#000" stroke-width="1.5"/>
<text x="284.50" y="236.60" font-size="10" text-anchor="start" font-weight="normal" fill="#000" >50 μm</text>
</svg></body></html>
